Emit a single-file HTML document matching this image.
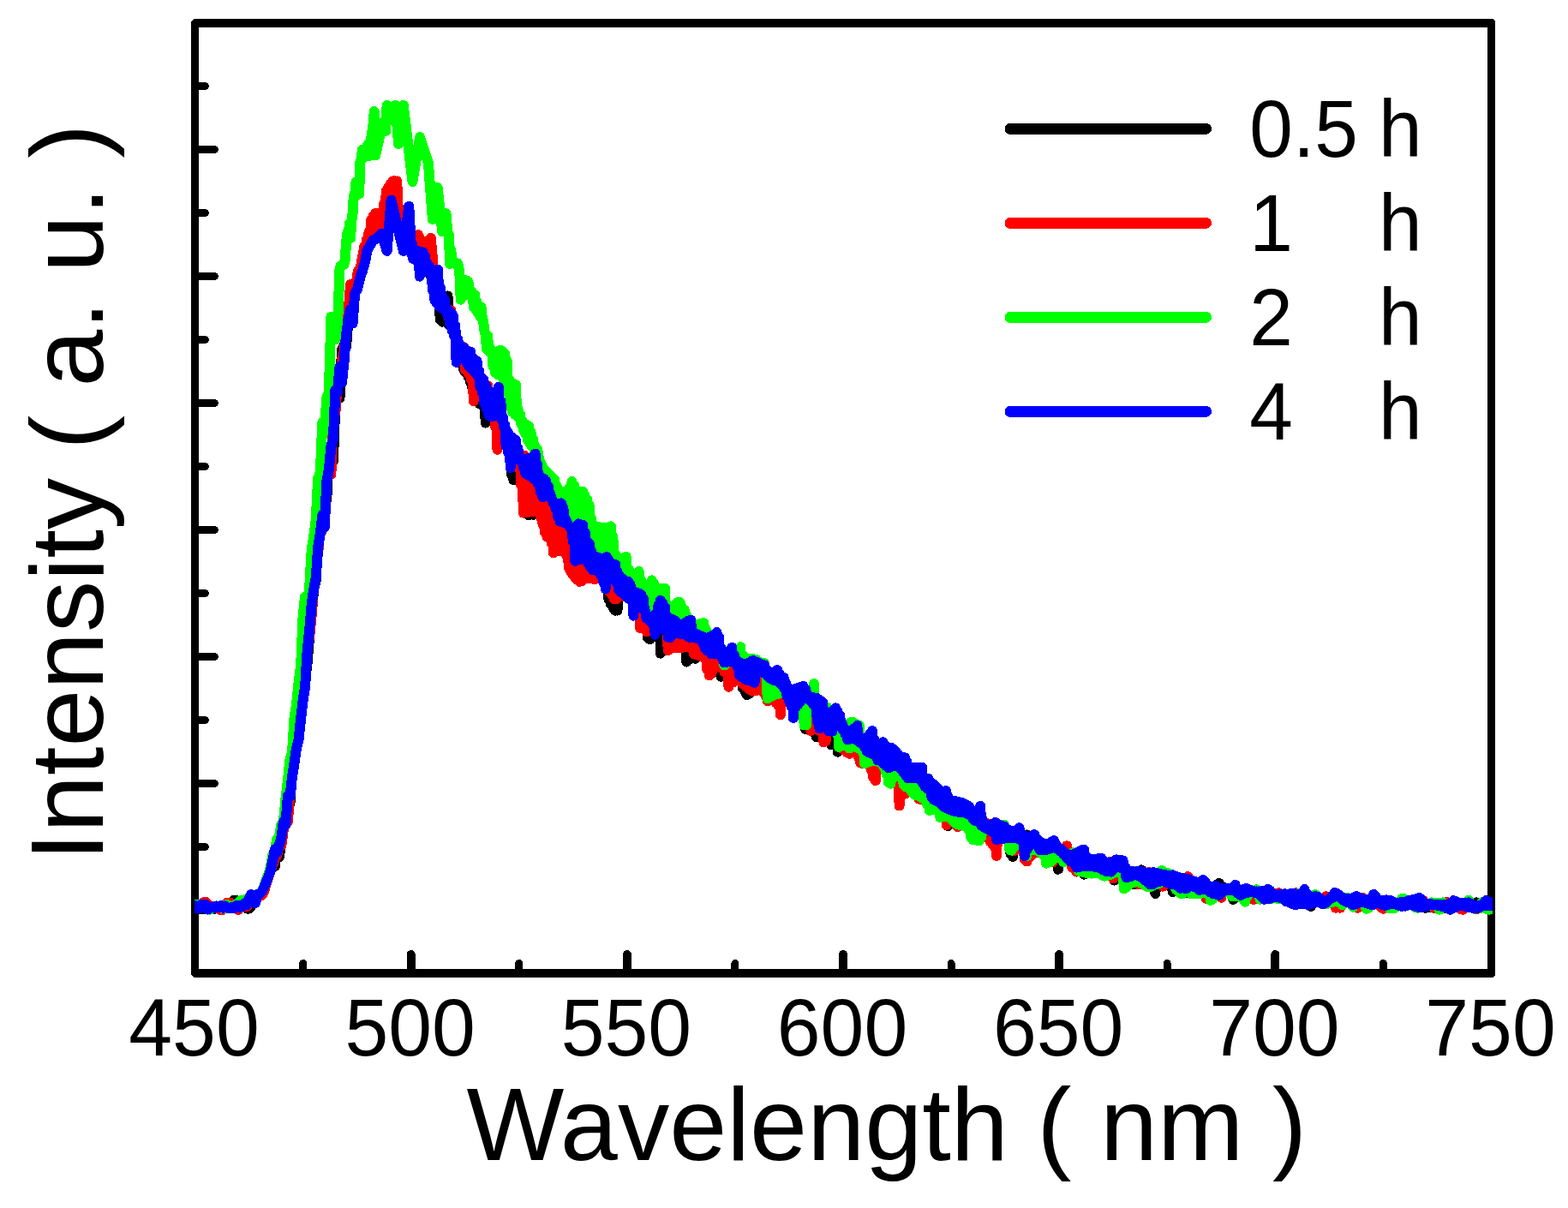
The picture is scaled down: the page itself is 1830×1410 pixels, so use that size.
<!DOCTYPE html>
<html><head><meta charset="utf-8"><title>PL spectra</title>
<style>
html,body{margin:0;padding:0;background:#fff;}
body{width:1830px;height:1410px;overflow:hidden;}
svg{display:block;}
text{font-family:"Liberation Sans",Arial,sans-serif;fill:#000;}
</style></head><body>
<svg width="1830" height="1410" viewBox="0 0 1830 1410" shape-rendering="crispEdges">
<rect x="0" y="0" width="1830" height="1410" fill="#fff"/>

<path fill="#000" fill-rule="evenodd" d="M226,22 H1742 L1745,25 V1138 L1742,1141 H226 L223,1138 V25 Z M232,32 V1131 H1736 V32 Z"/>
<g stroke="#000" stroke-linecap="round" fill="none">
<line x1="353.6" y1="1136" x2="353.6" y2="1124.5" stroke-width="9"/>
<line x1="479.7" y1="1136" x2="479.7" y2="1114" stroke-width="10"/>
<line x1="605.8" y1="1136" x2="605.8" y2="1124.5" stroke-width="9"/>
<line x1="731.8" y1="1136" x2="731.8" y2="1114" stroke-width="10"/>
<line x1="857.9" y1="1136" x2="857.9" y2="1124.5" stroke-width="9"/>
<line x1="984.0" y1="1136" x2="984.0" y2="1114" stroke-width="10"/>
<line x1="1110.1" y1="1136" x2="1110.1" y2="1124.5" stroke-width="9"/>
<line x1="1236.2" y1="1136" x2="1236.2" y2="1114" stroke-width="10"/>
<line x1="1362.2" y1="1136" x2="1362.2" y2="1124.5" stroke-width="9"/>
<line x1="1488.3" y1="1136" x2="1488.3" y2="1114" stroke-width="10"/>
<line x1="1614.4" y1="1136" x2="1614.4" y2="1124.5" stroke-width="9"/>
<line x1="228" y1="174.5" x2="250.5" y2="174.5" stroke-width="9"/>
<line x1="228" y1="100.5" x2="239.5" y2="100.5" stroke-width="9"/>
<line x1="228" y1="322.5" x2="250.5" y2="322.5" stroke-width="9"/>
<line x1="228" y1="248.5" x2="239.5" y2="248.5" stroke-width="9"/>
<line x1="228" y1="470.5" x2="250.5" y2="470.5" stroke-width="9"/>
<line x1="228" y1="396.5" x2="239.5" y2="396.5" stroke-width="9"/>
<line x1="228" y1="618.5" x2="250.5" y2="618.5" stroke-width="9"/>
<line x1="228" y1="544.5" x2="239.5" y2="544.5" stroke-width="9"/>
<line x1="228" y1="766.5" x2="250.5" y2="766.5" stroke-width="9"/>
<line x1="228" y1="692.5" x2="239.5" y2="692.5" stroke-width="9"/>
<line x1="228" y1="914.5" x2="250.5" y2="914.5" stroke-width="9"/>
<line x1="228" y1="840.5" x2="239.5" y2="840.5" stroke-width="9"/>
<line x1="228" y1="1062.5" x2="250.5" y2="1062.5" stroke-width="9"/>
<line x1="228" y1="988.5" x2="239.5" y2="988.5" stroke-width="9"/>
</g>
<clipPath id="pc"><rect x="227" y="32" width="1515" height="1099"/></clipPath>
<g fill="none" stroke-width="12" stroke-linejoin="round" stroke-linecap="round" clip-path="url(#pc)">
<path d="M227.5,1060.9 L230.0,1057.7 L232.5,1057.6 L235.1,1055.4 L237.6,1058.7 L240.1,1058.3 L242.6,1058.1 L245.2,1059.5 L247.7,1059.7 L250.2,1057.8 L252.7,1058.1 L255.2,1058.7 L257.8,1060.3 L260.3,1060.1 L262.8,1057.8 L265.3,1058.1 L270.0,1056.0 L272.5,1051.0 L275.0,1050.5 L277.5,1052.0 L280.0,1057.0 L283.0,1058.0 L286.0,1059.0 L288.5,1060.5 L291.0,1060.5 L293.0,1058.0 L295.5,1054.0 L298.0,1054.0 L300.5,1045.0 L303.0,1044.0 L305.5,1041.5 L308.0,1036.5 L310.5,1030.5 L313.0,1024.5 L315.8,1016.4 L318.3,1010.1 L320.8,1011.1 L323.3,990.2 L325.8,1000.2 L328.4,981.7 L330.9,963.8 L333.4,957.4 L335.9,944.8 L338.5,936.6 L341.0,901.2 L343.5,890.5 L346.0,868.0 L348.5,829.0 L351.1,814.1 L353.6,814.6 L356.1,794.8 L358.6,774.0 L361.1,743.3 L363.7,717.4 L366.2,687.5 L368.7,677.9 L371.2,629.5 L373.8,623.1 L376.3,617.3 L378.8,572.5 L381.3,582.7 L383.8,529.8 L386.4,524.9 L388.9,537.6 L391.4,472.1 L393.9,448.5 L396.5,464.5 L399.0,408.2 L401.5,403.7 L404.0,405.0 L406.5,373.0 L409.1,360.9 L411.6,377.5 L414.1,342.8 L417.2,336.8 L420.8,322.6 L423.7,314.0 L426.5,304.0 L428.2,292.8 L435.3,280.7 L440.3,277.9 L445.2,272.6 L451.6,292.9 L456.6,233.8 L470.8,292.9 L477.2,240.9 L478.4,259.5 L479.7,295.6 L480.9,285.1 L482.2,302.1 L483.4,291.3 L484.7,303.2 L486.0,292.7 L487.2,305.3 L488.5,293.2 L489.8,322.7 L491.0,293.6 L492.3,317.4 L493.5,294.4 L494.8,315.7 L496.1,299.6 L497.3,315.3 L498.6,307.3 L499.8,316.1 L501.1,319.1 L502.4,320.8 L503.6,324.1 L504.9,327.5 L506.1,329.9 L507.4,332.6 L508.7,334.3 L509.9,335.4 L511.2,336.8 L512.4,340.6 L513.7,373.0 L515.0,356.9 L516.2,375.7 L517.5,359.1 L518.8,370.4 L520.0,359.4 L521.3,368.7 L522.5,345.4 L523.8,379.4 L525.1,380.3 L526.3,381.2 L527.6,382.0 L528.8,383.4 L530.1,385.1 L531.4,389.5 L532.6,399.0 L533.9,400.7 L535.1,403.2 L536.4,404.5 L537.7,405.6 L538.9,406.9 L540.2,414.8 L541.4,432.0 L542.7,417.8 L544.0,435.3 L545.2,419.8 L546.5,439.9 L547.8,421.6 L549.0,445.7 L550.3,429.8 L551.5,453.7 L552.8,435.7 L554.1,462.0 L555.3,443.1 L556.6,468.3 L557.8,448.4 L559.1,470.8 L560.4,459.3 L561.6,471.8 L562.9,462.1 L564.1,474.0 L565.4,464.4 L566.7,493.6 L567.9,467.8 L569.2,472.2 L570.4,470.6 L571.7,471.1 L573.0,471.5 L574.2,471.5 L575.5,471.6 L576.8,471.2 L578.0,473.6 L579.3,475.5 L580.5,476.7 L581.8,478.1 L583.1,481.0 L584.3,487.1 L585.6,492.6 L586.8,494.4 L588.1,496.4 L589.4,502.0 L590.6,505.4 L591.9,507.3 L593.1,508.9 L594.4,511.8 L595.7,525.8 L596.9,553.7 L598.2,526.7 L599.4,560.3 L600.7,526.6 L602.0,527.4 L603.2,528.2 L604.5,530.8 L605.8,532.9 L607.0,534.3 L608.3,535.6 L609.5,537.0 L610.8,538.4 L612.1,539.5 L613.3,540.6 L614.6,598.8 L615.8,545.1 L617.1,601.5 L618.4,545.6 L619.6,592.8 L620.9,548.3 L622.1,600.8 L623.4,551.0 L624.7,551.9 L625.9,552.5 L627.2,554.7 L628.4,558.5 L629.7,559.7 L631.0,560.8 L632.2,561.9 L633.5,562.8 L634.7,563.3 L636.0,564.8 L637.3,567.4 L638.5,571.6 L639.8,575.5 L641.1,577.9 L642.3,579.9 L643.6,582.0 L644.8,584.4 L646.1,586.5 L647.4,588.2 L648.6,589.8 L649.9,591.8 L651.1,594.1 L652.4,596.1 L653.7,597.7 L654.9,598.5 L656.2,599.9 L657.4,603.4 L658.7,607.0 L660.0,610.5 L661.2,612.7 L662.5,614.8 L663.7,616.4 L665.0,617.7 L666.3,619.3 L667.5,621.6 L668.8,625.2 L670.1,628.7 L671.3,632.0 L672.6,633.6 L673.8,633.5 L675.1,633.2 L676.4,633.0 L677.6,632.9 L678.9,633.1 L680.1,633.9 L681.4,634.8 L682.7,636.7 L683.9,639.6 L685.2,641.2 L686.4,642.5 L687.7,643.5 L689.0,644.5 L690.2,647.4 L691.5,649.5 L692.7,651.4 L694.0,655.4 L695.3,657.7 L696.5,658.8 L697.8,659.9 L699.1,661.1 L700.3,662.8 L701.6,665.4 L702.8,666.4 L704.1,667.9 L705.4,669.2 L706.6,669.1 L707.9,671.6 L709.1,668.6 L710.4,699.5 L711.7,669.3 L712.9,705.3 L714.2,671.7 L715.4,709.0 L716.7,673.3 L718.0,712.7 L719.2,674.6 L720.5,712.6 L721.7,681.6 L723.0,687.1 L724.3,684.2 L725.5,685.5 L726.8,685.8 L728.1,688.1 L729.3,689.5 L730.6,690.5 L731.8,691.7 L733.1,692.7 L734.4,693.5 L735.6,694.6 L736.9,696.1 L738.1,698.3 L739.4,701.0 L740.7,701.7 L741.9,702.2 L743.2,702.8 L744.4,702.7 L745.7,703.2 L747.0,703.5 L748.2,704.3 L749.5,704.9 L750.7,706.5 L752.0,710.8 L753.3,724.1 L754.5,725.1 L755.8,744.3 L757.1,727.9 L758.3,746.1 L759.6,727.0 L760.8,726.4 L762.1,725.9 L763.4,725.2 L764.6,724.6 L765.9,723.9 L767.1,723.2 L768.4,723.2 L769.7,720.6 L770.9,762.7 L772.2,722.4 L773.4,727.8 L774.7,723.8 L776.0,725.7 L777.2,726.4 L778.5,727.6 L779.7,728.2 L781.0,728.9 L782.3,729.5 L783.5,730.1 L784.8,730.5 L786.0,731.1 L787.3,731.6 L788.6,731.8 L789.8,732.3 L791.1,732.8 L792.4,733.3 L793.6,733.7 L794.9,734.1 L796.1,734.5 L797.4,734.0 L798.7,736.0 L799.9,733.7 L801.2,772.6 L802.4,734.0 L803.7,770.0 L805.0,733.9 L806.2,768.4 L807.5,740.3 L808.7,768.0 L810.0,742.6 L811.3,768.8 L812.5,744.9 L813.8,753.3 L815.0,748.0 L816.3,750.5 L817.6,749.7 L818.8,750.0 L820.1,750.2 L821.4,750.8 L822.6,751.2 L823.9,751.8 L825.1,752.1 L826.4,752.2 L827.7,752.2 L828.9,752.2 L830.2,752.2 L831.4,752.0 L832.7,751.7 L834.0,751.3 L835.2,752.0 L836.5,752.6 L837.7,753.2 L839.0,754.2 L840.3,757.4 L841.5,789.7 L842.8,764.8 L844.0,765.3 L845.3,765.8 L846.6,765.7 L847.8,766.0 L849.1,766.0 L850.4,765.6 L851.6,765.9 L852.9,766.4 L854.1,766.9 L855.4,768.1 L856.7,769.8 L857.9,771.1 L859.2,772.6 L860.4,774.4 L861.7,776.9 L863.0,777.9 L864.2,779.2 L865.5,783.6 L866.7,803.0 L868.0,784.3 L869.3,807.0 L870.5,784.3 L871.8,811.0 L873.0,783.7 L874.3,809.7 L875.6,783.3 L876.8,790.1 L878.1,783.7 L879.4,785.2 L880.6,784.0 L881.9,783.5 L883.1,782.6 L884.4,782.2 L885.7,782.0 L886.9,781.8 L888.2,781.6 L889.4,781.5 L890.7,781.2 L892.0,781.9 L893.2,782.6 L894.5,784.0 L895.7,785.2 L897.0,786.2 L898.3,786.8 L899.5,787.4 L900.8,787.7 L902.0,788.2 L903.3,789.1 L904.6,789.2 L905.8,789.6 L907.1,790.9 L908.4,792.5 L909.6,794.3 L910.9,795.7 L912.1,796.8 L913.4,799.3 L914.7,801.5 L915.9,803.8 L917.2,806.7 L918.4,809.0 L919.7,811.3 L921.0,813.2 L922.2,814.2 L923.5,815.7 L924.7,817.9 L926.0,819.1 L927.3,820.3 L928.5,820.1 L929.8,817.6 L931.0,816.3 L932.3,815.3 L933.6,814.4 L934.8,813.6 L936.1,812.8 L937.4,811.5 L938.6,809.9 L939.9,850.8 L941.1,813.2 L942.4,850.7 L943.7,819.9 L944.9,823.4 L946.2,823.4 L947.4,824.9 L948.7,824.9 L950.0,826.1 L951.2,826.3 L952.5,860.0 L953.7,832.0 L955.0,833.7 L956.3,833.0 L957.5,833.2 L958.8,833.3 L960.0,833.7 L961.3,835.3 L962.6,836.8 L963.8,837.6 L965.1,838.3 L966.3,838.9 L967.6,839.6 L968.9,839.9 L970.1,869.2 L971.4,841.0 L972.7,853.4 L973.9,840.3 L975.2,868.8 L976.4,839.1 L977.7,877.7 L979.0,844.7 L980.2,846.7 L981.5,847.2 L982.7,848.6 L984.0,849.9 L985.3,851.0 L986.5,851.6 L987.8,852.8 L989.0,854.0 L990.3,854.6 L991.6,855.2 L992.8,856.2 L994.1,856.7 L995.3,856.2 L996.6,855.9 L997.9,856.0 L999.1,856.9 L1000.4,858.5 L1001.7,860.4 L1002.9,861.8 L1004.2,862.8 L1005.4,863.4 L1006.7,864.1 L1008.0,864.9 L1009.2,866.0 L1010.5,867.2 L1011.7,868.0 L1013.0,867.6 L1014.3,867.2 L1015.5,867.4 L1016.8,867.8 L1018.0,868.1 L1019.3,868.5 L1020.6,871.0 L1021.8,872.4 L1023.1,873.8 L1024.3,874.4 L1025.6,874.9 L1026.9,875.4 L1028.1,876.0 L1029.4,877.0 L1030.7,879.3 L1031.9,880.5 L1033.2,881.1 L1034.4,882.1 L1035.7,882.8 L1037.0,883.3 L1038.2,883.6 L1039.5,883.8 L1040.7,884.1 L1042.0,883.9 L1043.3,884.3 L1044.5,885.0 L1045.8,885.8 L1047.0,886.7 L1048.3,887.9 L1049.6,889.1 L1050.8,890.3 L1052.1,891.5 L1053.3,892.7 L1054.6,893.8 L1055.9,894.7 L1057.1,895.6 L1058.4,896.5 L1059.7,897.7 L1060.9,898.5 L1062.2,899.0 L1063.4,899.5 L1064.7,900.0 L1066.0,900.6 L1067.2,901.4 L1068.5,902.4 L1069.7,903.1 L1071.0,903.6 L1072.3,904.1 L1073.5,904.7 L1074.8,905.6 L1076.0,908.9 L1077.3,911.3 L1078.6,912.3 L1079.8,913.1 L1081.1,914.0 L1082.3,914.8 L1083.6,915.6 L1084.9,916.5 L1086.1,918.3 L1087.4,922.1 L1088.7,923.1 L1089.9,923.9 L1091.2,924.7 L1092.4,925.8 L1093.7,927.0 L1095.0,928.2 L1096.2,929.3 L1097.5,930.3 L1098.7,931.1 L1100.0,931.8 L1101.3,932.4 L1102.5,933.1 L1103.8,933.7 L1105.0,934.2 L1106.3,964.1 L1107.6,937.8 L1108.8,938.4 L1110.1,938.2 L1111.3,938.8 L1112.6,938.8 L1113.9,939.5 L1115.1,939.9 L1116.4,941.2 L1117.6,941.6 L1118.9,941.8 L1120.2,942.0 L1121.4,942.2 L1122.7,942.5 L1124.0,942.8 L1125.2,943.3 L1126.5,944.3 L1127.7,945.2 L1129.0,946.0 L1130.3,946.6 L1131.5,947.2 L1132.8,948.2 L1134.0,949.5 L1135.3,950.7 L1136.6,951.5 L1137.8,951.8 L1139.1,952.2 L1140.3,952.3 L1141.6,952.4 L1142.9,952.7 L1144.1,952.9 L1145.4,953.2 L1146.6,957.0 L1147.9,958.8 L1149.2,959.8 L1150.4,960.4 L1151.7,961.0 L1153.0,961.4 L1154.2,961.8 L1155.5,962.4 L1156.7,964.2 L1158.0,967.5 L1159.3,967.9 L1160.5,968.4 L1161.8,969.0 L1163.0,969.5 L1164.3,969.9 L1165.6,970.4 L1166.8,970.9 L1168.1,971.3 L1169.3,971.5 L1170.6,971.4 L1171.9,971.4 L1173.1,971.3 L1174.4,971.8 L1175.6,972.6 L1176.9,973.4 L1178.2,973.5 L1179.4,996.3 L1180.7,973.7 L1182.0,999.8 L1183.2,974.0 L1184.5,981.8 L1185.7,977.6 L1187.0,979.0 L1188.3,979.7 L1189.5,979.8 L1190.8,980.5 L1192.0,981.8 L1193.3,983.0 L1194.6,983.9 L1195.8,985.1 L1197.1,985.7 L1198.3,974.5 L1199.6,985.2 L1200.9,984.4 L1202.1,983.5 L1203.4,982.3 L1204.6,981.8 L1205.9,981.2 L1207.2,980.7 L1208.4,981.4 L1209.7,982.2 L1211.0,983.2 L1212.2,984.2 L1213.5,985.1 L1214.7,986.0 L1216.0,987.8 L1217.3,988.1 L1218.5,988.5 L1219.8,988.9 L1221.0,988.9 L1222.3,988.4 L1223.6,988.0 L1224.8,987.5 L1226.1,986.8 L1227.3,986.2 L1228.6,985.8 L1229.9,985.6 L1231.1,986.1 L1232.4,987.8 L1233.6,989.4 L1234.9,1014.8 L1236.2,993.8 L1237.4,1005.4 L1238.7,995.7 L1240.0,1000.1 L1241.2,998.3 L1242.5,999.0 L1243.7,999.3 L1245.0,999.6 L1246.3,1000.2 L1247.5,1000.8 L1248.8,1001.6 L1250.0,1002.1 L1251.3,1002.8 L1252.6,1003.0 L1253.8,1003.2 L1255.1,1003.3 L1256.3,1003.2 L1257.6,1003.0 L1258.9,1002.8 L1260.1,1003.0 L1261.4,1002.2 L1262.6,1004.3 L1263.9,1001.7 L1265.2,1020.7 L1266.4,1002.3 L1267.7,1003.4 L1268.9,1004.2 L1270.2,1004.7 L1271.5,1005.2 L1272.7,1005.5 L1274.0,1005.9 L1275.3,1006.5 L1276.5,1007.3 L1277.8,1007.3 L1279.0,1007.3 L1280.3,1007.5 L1281.6,1007.7 L1282.8,1007.9 L1284.1,1008.4 L1285.3,1008.8 L1286.6,1009.3 L1287.9,1009.9 L1289.1,1010.5 L1290.4,1011.0 L1291.6,1011.6 L1292.9,1012.0 L1294.2,1012.3 L1295.4,1012.8 L1296.7,1011.9 L1297.9,1013.6 L1299.2,1010.6 L1300.5,1027.6 L1301.7,1009.2 L1303.0,1008.7 L1304.3,1008.3 L1305.5,1008.2 L1306.8,1009.2 L1308.0,1010.2 L1309.3,1010.8 L1310.6,1011.4 L1311.8,1012.0 L1313.1,1013.4 L1314.3,1015.3 L1315.6,1016.8 L1316.9,1017.7 L1318.1,1018.2 L1319.4,1018.7 L1320.6,1019.3 L1321.9,1020.3 L1323.2,1032.5 L1324.4,1021.5 L1325.7,1021.0 L1326.9,1020.6 L1328.2,1020.3 L1329.5,1020.2 L1330.7,1020.1 L1332.0,1015.4 L1333.3,1021.9 L1334.5,1022.8 L1335.8,1023.4 L1337.0,1024.0 L1338.3,1024.5 L1339.6,1025.0 L1340.8,1025.4 L1342.1,1025.6 L1343.3,1025.6 L1344.6,1025.5 L1345.9,1026.4 L1347.1,1025.1 L1348.4,1042.9 L1349.6,1024.4 L1350.9,1028.1 L1352.2,1024.3 L1353.4,1025.3 L1354.7,1024.3 L1355.9,1024.6 L1357.2,1024.7 L1358.5,1025.1 L1359.7,1025.4 L1361.0,1025.7 L1362.3,1026.0 L1363.5,1026.3 L1364.8,1026.6 L1366.0,1027.0 L1367.3,1026.8 L1368.6,1041.0 L1369.8,1027.2 L1371.1,1028.8 L1372.3,1028.4 L1373.6,1028.6 L1374.9,1029.0 L1376.1,1029.5 L1377.4,1030.0 L1378.6,1030.4 L1379.9,1030.8 L1381.2,1031.0 L1382.4,1031.1 L1383.7,1042.5 L1384.9,1031.2 L1386.2,1030.9 L1387.5,1030.7 L1388.7,1030.8 L1390.0,1031.2 L1391.3,1031.6 L1392.5,1032.0 L1393.8,1032.4 L1395.0,1032.8 L1396.3,1033.3 L1397.6,1033.7 L1398.8,1034.1 L1400.1,1034.1 L1401.3,1033.8 L1402.6,1033.5 L1403.9,1032.9 L1405.1,1032.8 L1406.4,1033.3 L1407.6,1034.3 L1408.9,1035.3 L1410.2,1036.1 L1411.4,1036.8 L1412.7,1037.3 L1413.9,1037.7 L1415.2,1038.3 L1416.5,1038.8 L1417.7,1037.5 L1419.0,1039.0 L1420.2,1032.7 L1421.5,1039.6 L1422.8,1031.0 L1424.0,1038.7 L1425.3,1034.1 L1426.6,1037.4 L1427.8,1035.8 L1429.1,1036.5 L1430.3,1036.5 L1431.6,1037.7 L1432.9,1038.0 L1434.1,1038.5 L1435.4,1038.5 L1436.6,1038.7 L1437.9,1038.7 L1439.2,1049.8 L1440.4,1038.2 L1441.7,1039.6 L1442.9,1040.2 L1444.2,1040.5 L1445.5,1041.0 L1446.7,1041.3 L1448.0,1041.6 L1449.2,1042.0 L1450.5,1042.0 L1451.8,1041.6 L1453.0,1041.3 L1454.3,1041.1 L1455.6,1041.2 L1456.8,1041.5 L1458.1,1041.9 L1459.3,1042.4 L1460.6,1043.0 L1461.9,1043.5 L1463.1,1043.9 L1464.4,1044.3 L1465.6,1044.5 L1466.9,1044.5 L1468.2,1044.5 L1469.4,1044.5 L1470.7,1044.5 L1471.9,1044.3 L1473.2,1044.3 L1474.5,1044.4 L1475.7,1044.5 L1477.0,1044.5 L1478.2,1044.2 L1479.5,1044.0 L1480.8,1043.8 L1482.0,1043.8 L1483.3,1044.7 L1484.6,1045.5 L1485.8,1046.0 L1487.1,1046.4 L1488.3,1046.8 L1489.6,1047.3 L1490.9,1047.9 L1492.1,1048.3 L1493.4,1048.1 L1494.6,1047.9 L1495.9,1047.8 L1497.2,1047.6 L1498.4,1047.7 L1499.7,1047.8 L1500.9,1048.0 L1502.2,1048.3 L1503.5,1048.5 L1504.7,1048.8 L1506.0,1048.9 L1507.2,1048.9 L1508.5,1049.0 L1509.8,1049.3 L1511.0,1049.5 L1512.3,1049.6 L1513.6,1049.6 L1514.8,1049.3 L1516.1,1048.9 L1517.3,1048.6 L1518.6,1048.3 L1519.9,1047.8 L1521.1,1047.1 L1522.4,1046.7 L1523.6,1046.8 L1524.9,1047.1 L1526.2,1048.0 L1527.4,1048.8 L1528.7,1049.4 L1529.9,1057.9 L1531.2,1050.9 L1532.5,1051.1 L1533.7,1050.5 L1535.0,1050.3 L1536.2,1050.3 L1537.5,1050.5 L1538.8,1050.8 L1540.0,1051.5 L1541.3,1052.3 L1542.6,1053.0 L1543.8,1053.5 L1545.1,1054.0 L1546.3,1054.5 L1547.6,1054.0 L1548.9,1053.0 L1550.1,1052.0 L1551.4,1050.9 L1552.6,1050.0 L1553.9,1049.3 L1555.2,1048.5 L1556.4,1047.5 L1557.7,1046.6 L1558.9,1046.1 L1560.2,1046.4 L1561.5,1046.8 L1562.7,1047.6 L1564.0,1048.4 L1565.2,1049.2 L1566.5,1049.9 L1567.8,1050.6 L1569.0,1051.3 L1570.3,1052.0 L1571.6,1052.5 L1572.8,1053.0 L1574.1,1053.0 L1575.3,1052.8 L1576.6,1052.5 L1577.9,1052.2 L1579.1,1051.9 L1580.4,1051.4 L1581.6,1051.2 L1582.9,1050.9 L1584.2,1050.6 L1585.4,1050.9 L1586.7,1051.3 L1587.9,1051.8 L1589.2,1052.3 L1590.5,1052.8 L1591.7,1053.3 L1593.0,1053.7 L1594.2,1053.7 L1595.5,1053.4 L1596.8,1053.0 L1598.0,1052.6 L1599.3,1052.0 L1600.5,1051.4 L1601.8,1050.5 L1603.1,1050.1 L1604.3,1049.8 L1605.6,1050.0 L1606.9,1051.1 L1608.1,1051.8 L1609.4,1052.3 L1610.6,1052.7 L1611.9,1053.1 L1613.2,1053.5 L1614.4,1054.0 L1615.7,1054.7 L1616.9,1054.6 L1618.2,1054.5 L1619.5,1054.5 L1620.7,1054.7 L1622.0,1054.8 L1623.2,1055.1 L1624.5,1055.5 L1625.8,1055.9 L1627.0,1056.5 L1628.3,1057.0 L1629.5,1057.5 L1630.8,1057.8 L1632.1,1057.6 L1633.3,1057.4 L1634.6,1057.2 L1635.9,1057.1 L1637.1,1056.9 L1638.4,1056.4 L1639.6,1056.1 L1640.9,1055.9 L1642.2,1055.6 L1643.4,1055.2 L1644.7,1054.8 L1645.9,1054.6 L1647.2,1054.4 L1648.5,1054.1 L1649.7,1053.8 L1651.0,1053.7 L1652.2,1053.8 L1653.5,1053.7 L1654.8,1053.6 L1656.0,1053.5 L1657.3,1053.5 L1658.5,1053.7 L1659.8,1054.7 L1661.1,1055.6 L1662.3,1056.2 L1663.6,1059.8 L1664.9,1057.0 L1666.1,1057.7 L1667.4,1058.5 L1668.6,1059.1 L1669.9,1059.3 L1671.2,1059.4 L1672.4,1059.5 L1673.7,1059.6 L1674.9,1059.6 L1676.2,1059.6 L1677.5,1059.7 L1678.7,1059.7 L1680.0,1059.8 L1681.2,1059.8 L1682.5,1059.9 L1683.8,1059.9 L1685.0,1060.0 L1686.3,1060.1 L1687.5,1060.0 L1688.8,1059.5 L1690.1,1059.1 L1691.3,1058.7 L1692.6,1058.1 L1693.9,1057.4 L1695.1,1056.7 L1696.4,1056.1 L1697.6,1055.8 L1698.9,1055.9 L1700.2,1056.3 L1701.4,1056.7 L1702.7,1057.1 L1703.9,1057.4 L1705.2,1057.5 L1706.5,1057.6 L1707.7,1057.7 L1709.0,1057.8 L1710.2,1057.7 L1711.5,1057.6 L1712.8,1057.5 L1714.0,1057.7 L1715.3,1058.1 L1716.5,1058.6 L1717.8,1058.6 L1719.1,1058.4 L1720.3,1058.3 L1721.6,1058.1 L1722.9,1053.4 L1724.1,1058.4 L1725.4,1058.5 L1726.6,1058.8 L1727.9,1059.0 L1729.2,1058.4 L1730.4,1057.8 L1731.7,1057.1 L1732.9,1056.2 L1734.2,1055.6 L1735.5,1055.5 L1736.7,1055.9 L1738.0,1056.3 L1739.2,1056.8 L1740.5,1057.3 L1741.8,1057.8 L1743.0,1058.3 L1744.3,1058.8" stroke="#000000"/>
<path d="M227.5,1057.8 L230.0,1055.8 L232.5,1060.1 L235.5,1056.0 L238.0,1053.0 L240.5,1053.0 L243.0,1055.5 L247.7,1060.0 L250.2,1058.4 L254.5,1059.0 L257.0,1062.0 L259.5,1062.0 L262.0,1058.0 L264.5,1054.0 L267.0,1053.5 L269.5,1054.0 L272.0,1057.0 L275.4,1057.8 L277.9,1061.8 L280.5,1057.3 L283.0,1058.1 L285.5,1058.3 L288.0,1058.0 L290.5,1054.7 L293.1,1051.3 L295.6,1049.9 L300.5,1046.0 L303.0,1044.5 L305.5,1045.0 L308.0,1041.0 L310.5,1032.0 L313.0,1025.0 L315.8,1015.4 L318.3,1009.1 L320.8,1002.1 L323.3,998.5 L325.8,986.1 L328.4,986.8 L330.9,967.8 L333.4,950.8 L335.9,959.0 L338.5,923.7 L341.0,906.1 L343.5,871.4 L346.0,870.6 L348.5,835.3 L351.1,819.1 L353.6,816.2 L356.1,793.1 L358.6,753.1 L361.1,743.5 L363.7,717.9 L366.2,684.1 L368.7,649.6 L371.2,647.4 L373.8,604.0 L376.3,617.6 L378.8,595.0 L381.3,545.0 L383.8,524.3 L386.4,553.6 L388.9,472.2 L391.4,481.8 L393.9,446.2 L396.5,438.8 L399.0,419.8 L401.5,411.1 L404.0,389.9 L406.5,364.9 L409.1,331.9 L411.6,341.0 L414.1,341.2 L416.6,325.3 L417.9,315.9 L419.1,315.2 L420.4,312.5 L421.7,307.8 L422.9,300.4 L424.2,294.8 L425.5,287.0 L426.7,290.5 L428.0,279.4 L429.2,286.2 L430.5,270.9 L431.8,282.9 L433.0,257.2 L434.3,281.4 L435.5,252.2 L436.8,279.8 L438.1,249.2 L439.3,277.2 L440.6,248.7 L441.8,274.9 L443.1,248.6 L444.4,274.0 L445.6,247.2 L446.9,274.3 L448.1,238.0 L449.4,255.2 L450.7,223.4 L451.9,238.8 L453.2,218.9 L454.5,236.8 L455.7,214.5 L457.0,236.3 L458.2,211.4 L459.5,237.0 L460.8,211.2 L462.0,239.2 L463.3,211.4 L464.5,248.5 L465.8,243.0 L467.1,261.7 L468.3,268.6 L469.6,267.8 L470.8,263.3 L472.1,260.8 L473.7,277.6 L480.8,284.7 L487.9,274.0 L495.0,289.0 L502.8,277.9 L504.9,301.7 L506.1,329.8 L507.4,335.8 L508.7,335.8 L509.9,336.1 L511.2,336.7 L512.4,338.6 L513.7,344.5 L515.0,348.0 L516.2,349.9 L517.5,351.5 L518.8,353.2 L520.0,360.2 L521.3,364.5 L522.5,367.0 L523.8,369.8 L525.1,375.5 L526.3,362.4 L527.6,381.1 L528.8,383.3 L530.1,385.1 L531.4,389.5 L532.6,399.0 L533.9,400.7 L535.1,403.2 L536.4,404.5 L537.7,405.6 L538.9,406.6 L540.2,413.8 L541.4,405.1 L542.7,431.4 L544.0,413.8 L545.2,433.9 L546.5,419.4 L547.8,436.9 L549.0,425.8 L550.3,443.9 L551.5,433.8 L552.8,468.0 L554.1,440.5 L555.3,461.8 L556.6,444.7 L557.8,449.2 L559.1,451.2 L560.4,453.6 L561.6,454.3 L562.9,455.0 L564.1,455.5 L565.4,456.5 L566.7,457.5 L567.9,458.9 L569.2,450.2 L570.4,465.9 L571.7,468.3 L573.0,469.0 L574.2,470.0 L575.5,470.9 L576.8,471.8 L578.0,498.0 L579.3,481.0 L580.5,524.8 L581.8,485.8 L583.1,503.0 L584.3,502.1 L585.6,505.1 L586.8,507.3 L588.1,506.5 L589.4,509.8 L590.6,509.9 L591.9,512.2 L593.1,511.8 L594.4,514.3 L595.7,517.5 L596.9,522.9 L598.2,523.8 L599.4,524.9 L600.7,526.9 L602.0,528.0 L603.2,529.6 L604.5,532.7 L605.8,544.0 L607.0,539.9 L608.3,566.8 L609.5,540.6 L610.8,598.7 L612.1,531.8 L613.3,597.6 L614.6,544.7 L615.8,597.9 L617.1,545.3 L618.4,597.4 L619.6,546.8 L620.9,597.3 L622.1,549.5 L623.4,597.3 L624.7,552.6 L625.9,597.5 L627.2,558.3 L628.4,598.8 L629.7,567.2 L631.0,603.7 L632.2,568.9 L633.5,612.2 L634.7,569.2 L636.0,621.4 L637.3,573.8 L638.5,626.5 L639.8,581.4 L641.1,628.7 L642.3,588.8 L643.6,633.9 L644.8,594.7 L646.1,645.5 L647.4,597.2 L648.6,643.6 L649.9,598.2 L651.1,643.4 L652.4,598.3 L653.7,643.4 L654.9,598.5 L656.2,643.5 L657.4,608.2 L658.7,644.5 L660.0,621.6 L661.2,648.7 L662.5,628.3 L663.7,662.3 L665.0,632.1 L666.3,667.8 L667.5,633.6 L668.8,671.0 L670.1,633.9 L671.3,674.4 L672.6,634.1 L673.8,676.7 L675.1,633.5 L676.4,678.9 L677.6,633.1 L678.9,678.2 L680.1,635.3 L681.4,676.2 L682.7,640.1 L683.9,674.9 L685.2,647.2 L686.4,674.8 L687.7,649.2 L689.0,675.1 L690.2,654.1 L691.5,675.4 L692.7,658.7 L694.0,676.2 L695.3,663.8 L696.5,672.1 L697.8,666.7 L699.1,669.3 L700.3,668.4 L701.6,668.7 L702.8,668.9 L704.1,669.0 L705.4,669.1 L706.6,669.4 L707.9,668.9 L709.1,671.1 L710.4,668.0 L711.7,690.7 L712.9,670.7 L714.2,694.5 L715.4,672.6 L716.7,699.2 L718.0,673.9 L719.2,699.5 L720.5,678.1 L721.7,696.5 L723.0,683.1 L724.3,695.4 L725.5,685.2 L726.8,695.5 L728.1,691.1 L729.3,696.6 L730.6,695.0 L731.8,696.7 L733.1,696.7 L734.4,697.2 L735.6,697.6 L736.9,698.8 L738.1,699.9 L739.4,701.0 L740.7,701.7 L741.9,702.2 L743.2,702.8 L744.4,703.7 L745.7,705.1 L747.0,732.9 L748.2,707.2 L749.5,729.4 L750.7,709.8 L752.0,733.5 L753.3,722.3 L754.5,737.3 L755.8,726.8 L757.1,729.0 L758.3,727.5 L759.6,727.0 L760.8,726.4 L762.1,725.7 L763.4,724.8 L764.6,724.0 L765.9,723.0 L767.1,721.4 L768.4,720.0 L769.7,719.2 L770.9,719.6 L772.2,720.1 L773.4,720.3 L774.7,721.3 L776.0,722.1 L777.2,725.7 L778.5,730.0 L779.7,759.1 L781.0,732.2 L782.3,756.5 L783.5,732.7 L784.8,755.7 L786.0,732.2 L787.3,755.7 L788.6,732.0 L789.8,755.9 L791.1,733.4 L792.4,756.3 L793.6,734.3 L794.9,756.1 L796.1,734.3 L797.4,755.6 L798.7,733.7 L799.9,755.2 L801.2,733.9 L802.4,754.9 L803.7,733.9 L805.0,755.4 L806.2,735.3 L807.5,757.6 L808.7,741.7 L810.0,763.4 L811.3,743.2 L812.5,764.3 L813.8,746.4 L815.0,764.9 L816.3,749.0 L817.6,765.4 L818.8,750.3 L820.1,766.3 L821.4,751.4 L822.6,769.1 L823.9,752.1 L825.1,781.0 L826.4,752.2 L827.7,788.3 L828.9,752.2 L830.2,786.4 L831.4,752.2 L832.7,781.0 L834.0,751.6 L835.2,778.8 L836.5,754.0 L837.7,778.2 L839.0,755.6 L840.3,778.7 L841.5,762.9 L842.8,780.5 L844.0,765.9 L845.3,784.1 L846.6,766.9 L847.8,785.4 L849.1,766.8 L850.4,801.8 L851.6,767.4 L852.9,797.3 L854.1,769.9 L855.4,796.5 L856.7,775.1 L857.9,794.7 L859.2,778.6 L860.4,794.3 L861.7,781.2 L863.0,794.9 L864.2,782.8 L865.5,796.8 L866.7,784.0 L868.0,799.0 L869.3,784.3 L870.5,801.3 L871.8,784.0 L873.0,803.5 L874.3,783.3 L875.6,805.4 L876.8,783.5 L878.1,806.7 L879.4,783.8 L880.6,806.3 L881.9,784.0 L883.1,805.8 L884.4,784.2 L885.7,805.4 L886.9,784.2 L888.2,805.8 L889.4,783.2 L890.7,807.5 L892.0,783.0 L893.2,811.9 L894.5,785.8 L895.7,818.1 L897.0,788.5 L898.3,817.7 L899.5,789.3 L900.8,817.5 L902.0,789.1 L903.3,818.2 L904.6,789.3 L905.8,820.4 L907.1,792.4 L908.4,823.4 L909.6,798.3 L910.9,834.2 L912.1,802.1 L913.4,813.3 L914.7,809.5 L915.9,811.5 L917.2,812.4 L918.4,813.9 L919.7,814.3 L921.0,815.4 L922.2,815.6 L923.5,816.5 L924.7,817.9 L926.0,819.1 L927.3,819.4 L928.5,817.9 L929.8,817.1 L931.0,816.3 L932.3,815.3 L933.6,814.4 L934.8,813.6 L936.1,812.6 L937.4,811.3 L938.6,809.4 L939.9,809.7 L941.1,812.3 L942.4,815.5 L943.7,817.4 L944.9,819.0 L946.2,852.9 L947.4,829.0 L948.7,850.3 L950.0,830.6 L951.2,851.2 L952.5,831.4 L953.7,851.8 L955.0,832.6 L956.3,852.6 L957.5,833.2 L958.8,854.5 L960.0,834.0 L961.3,866.3 L962.6,839.7 L963.8,865.0 L965.1,841.9 L966.3,844.2 L967.6,842.2 L968.9,841.7 L970.1,841.3 L971.4,840.5 L972.7,840.1 L973.9,839.8 L975.2,839.8 L976.4,839.8 L977.7,841.6 L979.0,843.3 L980.2,846.2 L981.5,873.4 L982.7,851.2 L984.0,874.2 L985.3,855.7 L986.5,876.3 L987.8,857.5 L989.0,878.7 L990.3,858.1 L991.6,879.8 L992.8,857.8 L994.1,876.7 L995.3,856.6 L996.6,876.9 L997.9,856.0 L999.1,878.2 L1000.4,860.8 L1001.7,883.5 L1002.9,866.7 L1004.2,890.4 L1005.4,868.5 L1006.7,891.0 L1008.0,869.0 L1009.2,891.2 L1010.5,868.7 L1011.7,891.7 L1013.0,867.9 L1014.3,893.7 L1015.5,868.0 L1016.8,898.6 L1018.0,869.5 L1019.3,907.7 L1020.6,874.5 L1021.8,911.1 L1023.1,877.3 L1024.3,881.9 L1025.6,878.3 L1026.9,879.8 L1028.1,879.1 L1029.4,879.6 L1030.7,880.0 L1031.9,880.5 L1033.2,881.1 L1034.4,882.1 L1035.7,882.8 L1037.0,883.3 L1038.2,883.6 L1039.5,883.8 L1040.7,884.1 L1042.0,883.9 L1043.3,884.5 L1044.5,885.7 L1045.8,886.8 L1047.0,888.6 L1048.3,891.3 L1049.6,940.5 L1050.8,893.6 L1052.1,928.2 L1053.3,895.0 L1054.6,926.9 L1055.9,895.9 L1057.1,926.5 L1058.4,896.9 L1059.7,903.2 L1060.9,900.6 L1062.2,901.5 L1063.4,901.6 L1064.7,901.6 L1066.0,902.0 L1067.2,902.1 L1068.5,902.7 L1069.7,904.5 L1071.0,904.7 L1072.3,932.4 L1073.5,906.0 L1074.8,933.2 L1076.0,912.5 L1077.3,922.9 L1078.6,917.6 L1079.8,920.1 L1081.1,919.2 L1082.3,919.6 L1083.6,919.9 L1084.9,920.4 L1086.1,921.4 L1087.4,922.3 L1088.7,923.1 L1089.9,923.9 L1091.2,924.7 L1092.4,925.8 L1093.7,927.0 L1095.0,928.2 L1096.2,929.3 L1097.5,930.3 L1098.7,931.1 L1100.0,931.8 L1101.3,932.4 L1102.5,933.2 L1103.8,933.6 L1105.0,963.0 L1106.3,936.4 L1107.6,937.2 L1108.8,937.6 L1110.1,937.9 L1111.3,938.2 L1112.6,938.6 L1113.9,939.1 L1115.1,939.9 L1116.4,941.2 L1117.6,965.1 L1118.9,941.9 L1120.2,942.7 L1121.4,942.3 L1122.7,942.5 L1124.0,942.8 L1125.2,943.3 L1126.5,944.3 L1127.7,945.2 L1129.0,946.0 L1130.3,946.6 L1131.5,947.2 L1132.8,948.2 L1134.0,949.5 L1135.3,950.7 L1136.6,951.5 L1137.8,951.8 L1139.1,952.2 L1140.3,952.3 L1141.6,952.4 L1142.9,952.7 L1144.1,952.9 L1145.4,953.2 L1146.6,957.0 L1147.9,958.8 L1149.2,959.8 L1150.4,960.4 L1151.7,961.0 L1153.0,961.6 L1154.2,963.5 L1155.5,982.3 L1156.7,967.3 L1158.0,985.1 L1159.3,968.2 L1160.5,988.1 L1161.8,969.8 L1163.0,998.9 L1164.3,970.6 L1165.6,973.5 L1166.8,971.2 L1168.1,971.8 L1169.3,971.5 L1170.6,971.4 L1171.9,971.4 L1173.1,971.3 L1174.4,971.6 L1175.6,972.0 L1176.9,972.5 L1178.2,972.9 L1179.4,973.3 L1180.7,973.7 L1182.0,971.4 L1183.2,993.5 L1184.5,974.9 L1185.7,976.2 L1187.0,977.4 L1188.3,980.1 L1189.5,981.4 L1190.8,991.3 L1192.0,984.6 L1193.3,993.8 L1194.6,986.8 L1195.8,1002.9 L1197.1,987.5 L1198.3,1005.5 L1199.6,987.3 L1200.9,1001.2 L1202.1,986.7 L1203.4,998.6 L1204.6,984.9 L1205.9,996.2 L1207.2,981.7 L1208.4,995.1 L1209.7,984.0 L1211.0,995.2 L1212.2,986.0 L1213.5,989.4 L1214.7,987.4 L1216.0,988.0 L1217.3,988.1 L1218.5,988.5 L1219.8,988.9 L1221.0,988.9 L1222.3,988.4 L1223.6,988.0 L1224.8,987.5 L1226.1,986.8 L1227.3,986.3 L1228.6,1006.2 L1229.9,985.8 L1231.1,986.7 L1232.4,988.1 L1233.6,989.2 L1234.9,990.0 L1236.2,990.5 L1237.4,991.2 L1238.7,991.5 L1240.0,992.0 L1241.2,992.3 L1242.5,992.6 L1243.7,995.5 L1245.0,987.3 L1246.3,998.9 L1247.5,1000.3 L1248.8,1003.3 L1250.0,1002.3 L1251.3,1012.3 L1252.6,1003.2 L1253.8,1014.0 L1255.1,1003.3 L1256.3,1017.6 L1257.6,1003.1 L1258.9,1003.3 L1260.1,1002.5 L1261.4,1002.1 L1262.6,1001.9 L1263.9,1001.7 L1265.2,1001.8 L1266.4,1002.0 L1267.7,1003.2 L1268.9,1004.1 L1270.2,1004.7 L1271.5,1005.2 L1272.7,1005.5 L1274.0,1005.9 L1275.3,1006.5 L1276.5,1007.3 L1277.8,1007.3 L1279.0,1007.3 L1280.3,1007.5 L1281.6,1007.7 L1282.8,1007.9 L1284.1,1008.4 L1285.3,1008.8 L1286.6,1009.3 L1287.9,1009.9 L1289.1,1010.5 L1290.4,1011.0 L1291.6,1011.6 L1292.9,1012.0 L1294.2,1012.3 L1295.4,1006.2 L1296.7,1014.0 L1297.9,1011.1 L1299.2,1025.4 L1300.5,1010.2 L1301.7,1012.2 L1303.0,1009.4 L1304.3,1009.4 L1305.5,1008.5 L1306.8,1009.5 L1308.0,1010.2 L1309.3,1010.8 L1310.6,1011.4 L1311.8,1012.0 L1313.1,1013.4 L1314.3,1015.3 L1315.6,1016.8 L1316.9,1017.7 L1318.1,1018.2 L1319.4,1018.7 L1320.6,1019.3 L1321.9,1020.3 L1323.2,1021.3 L1324.4,1021.5 L1325.7,1021.4 L1326.9,1022.8 L1328.2,1021.1 L1329.5,1032.5 L1330.7,1021.5 L1332.0,1022.5 L1333.3,1022.6 L1334.5,1022.9 L1335.8,1023.5 L1337.0,1023.9 L1338.3,1024.4 L1339.6,1024.7 L1340.8,1018.2 L1342.1,1025.6 L1343.3,1025.0 L1344.6,1025.3 L1345.9,1025.1 L1347.1,1024.9 L1348.4,1024.6 L1349.6,1024.4 L1350.9,1024.3 L1352.2,1024.3 L1353.4,1024.3 L1354.7,1024.3 L1355.9,1024.6 L1357.2,1034.7 L1358.5,1025.3 L1359.7,1027.9 L1361.0,1025.9 L1362.3,1030.5 L1363.5,1026.5 L1364.8,1027.7 L1366.0,1026.8 L1367.3,1026.9 L1368.6,1026.9 L1369.8,1027.1 L1371.1,1027.4 L1372.3,1027.9 L1373.6,1028.4 L1374.9,1028.9 L1376.1,1029.5 L1377.4,1030.0 L1378.6,1030.4 L1379.9,1030.8 L1381.2,1031.0 L1382.4,1031.1 L1383.7,1030.5 L1384.9,1031.0 L1386.2,1023.2 L1387.5,1030.5 L1388.7,1030.6 L1390.0,1030.7 L1391.3,1031.1 L1392.5,1031.4 L1393.8,1032.2 L1395.0,1032.8 L1396.3,1033.3 L1397.6,1033.7 L1398.8,1034.1 L1400.1,1034.1 L1401.3,1033.9 L1402.6,1033.8 L1403.9,1033.2 L1405.1,1034.6 L1406.4,1034.2 L1407.6,1048.8 L1408.9,1036.4 L1410.2,1036.7 L1411.4,1037.1 L1412.7,1037.3 L1413.9,1037.7 L1415.2,1038.3 L1416.5,1038.8 L1417.7,1038.9 L1419.0,1039.2 L1420.2,1039.5 L1421.5,1039.9 L1422.8,1040.1 L1424.0,1040.3 L1425.3,1047.7 L1426.6,1040.6 L1427.8,1041.5 L1429.1,1040.9 L1430.3,1040.9 L1431.6,1040.9 L1432.9,1040.6 L1434.1,1040.1 L1435.4,1039.7 L1436.6,1039.4 L1437.9,1039.0 L1439.2,1038.4 L1440.4,1037.7 L1441.7,1038.1 L1442.9,1039.2 L1444.2,1040.0 L1445.5,1040.8 L1446.7,1041.3 L1448.0,1041.6 L1449.2,1042.1 L1450.5,1042.0 L1451.8,1041.6 L1453.0,1041.3 L1454.3,1041.1 L1455.6,1041.2 L1456.8,1041.5 L1458.1,1041.9 L1459.3,1042.4 L1460.6,1043.0 L1461.9,1043.5 L1463.1,1049.8 L1464.4,1044.5 L1465.6,1044.5 L1466.9,1044.5 L1468.2,1044.5 L1469.4,1044.5 L1470.7,1044.5 L1471.9,1044.3 L1473.2,1044.3 L1474.5,1044.4 L1475.7,1044.5 L1477.0,1044.5 L1478.2,1044.2 L1479.5,1044.0 L1480.8,1043.8 L1482.0,1043.8 L1483.3,1044.5 L1484.6,1044.9 L1485.8,1045.3 L1487.1,1045.2 L1488.3,1045.1 L1489.6,1044.7 L1490.9,1044.4 L1492.1,1042.3 L1493.4,1044.8 L1494.6,1045.4 L1495.9,1045.8 L1497.2,1046.3 L1498.4,1046.8 L1499.7,1047.5 L1500.9,1048.0 L1502.2,1048.3 L1503.5,1048.5 L1504.7,1048.8 L1506.0,1048.9 L1507.2,1048.9 L1508.5,1049.0 L1509.8,1049.3 L1511.0,1049.4 L1512.3,1042.3 L1513.6,1049.6 L1514.8,1049.3 L1516.1,1048.9 L1517.3,1048.6 L1518.6,1048.3 L1519.9,1047.8 L1521.1,1047.1 L1522.4,1046.7 L1523.6,1046.8 L1524.9,1047.1 L1526.2,1048.0 L1527.4,1048.8 L1528.7,1049.3 L1529.9,1049.6 L1531.2,1049.9 L1532.5,1050.2 L1533.7,1050.5 L1535.0,1050.3 L1536.2,1050.3 L1537.5,1050.5 L1538.8,1050.8 L1540.0,1051.5 L1541.3,1052.2 L1542.6,1052.5 L1543.8,1052.6 L1545.1,1052.4 L1546.3,1052.0 L1547.6,1046.2 L1548.9,1050.3 L1550.1,1048.5 L1551.4,1048.2 L1552.6,1048.5 L1553.9,1048.2 L1555.2,1048.2 L1556.4,1047.8 L1557.7,1047.1 L1558.9,1059.7 L1560.2,1046.8 L1561.5,1054.2 L1562.7,1048.3 L1564.0,1059.7 L1565.2,1050.5 L1566.5,1050.8 L1567.8,1051.3 L1569.0,1051.6 L1570.3,1052.0 L1571.6,1052.5 L1572.8,1053.0 L1574.1,1053.0 L1575.3,1052.8 L1576.6,1052.5 L1577.9,1052.2 L1579.1,1051.9 L1580.4,1051.4 L1581.6,1051.2 L1582.9,1051.0 L1584.2,1059.7 L1585.4,1050.8 L1586.7,1050.6 L1587.9,1050.6 L1589.2,1050.4 L1590.5,1048.0 L1591.7,1051.4 L1593.0,1051.8 L1594.2,1052.1 L1595.5,1052.5 L1596.8,1052.7 L1598.0,1052.6 L1599.3,1052.0 L1600.5,1051.4 L1601.8,1050.5 L1603.1,1050.1 L1604.3,1049.8 L1605.6,1050.0 L1606.9,1051.2 L1608.1,1052.1 L1609.4,1052.8 L1610.6,1054.0 L1611.9,1059.4 L1613.2,1055.0 L1614.4,1060.7 L1615.7,1054.8 L1616.9,1055.1 L1618.2,1054.5 L1619.5,1054.5 L1620.7,1054.7 L1622.0,1054.8 L1623.2,1055.1 L1624.5,1055.5 L1625.8,1055.9 L1627.0,1056.5 L1628.3,1057.0 L1629.5,1057.5 L1630.8,1057.8 L1632.1,1057.6 L1633.3,1057.4 L1634.6,1057.2 L1635.9,1057.1 L1637.1,1056.9 L1638.4,1056.4 L1639.6,1056.1 L1640.9,1055.9 L1642.2,1055.6 L1643.4,1055.2 L1644.7,1054.8 L1645.9,1054.6 L1647.2,1054.4 L1648.5,1054.1 L1649.7,1053.8 L1651.0,1053.7 L1652.2,1053.8 L1653.5,1053.7 L1654.8,1053.6 L1656.0,1053.5 L1657.3,1053.5 L1658.5,1053.7 L1659.8,1054.0 L1661.1,1051.2 L1662.3,1054.4 L1663.6,1055.3 L1664.9,1055.7 L1666.1,1056.1 L1667.4,1056.3 L1668.6,1056.6 L1669.9,1057.0 L1671.2,1057.5 L1672.4,1058.1 L1673.7,1059.6 L1674.9,1059.6 L1676.2,1059.6 L1677.5,1059.7 L1678.7,1059.7 L1680.0,1059.8 L1681.2,1059.8 L1682.5,1058.7 L1683.8,1058.3 L1685.0,1057.9 L1686.3,1057.9 L1687.5,1057.7 L1688.8,1053.0 L1690.1,1057.4 L1691.3,1057.0 L1692.6,1057.3 L1693.9,1057.0 L1695.1,1056.6 L1696.4,1056.1 L1697.6,1055.8 L1698.9,1055.9 L1700.2,1056.3 L1701.4,1056.7 L1702.7,1057.3 L1703.9,1057.5 L1705.2,1061.4 L1706.5,1057.6 L1707.7,1061.7 L1709.0,1057.8 L1710.2,1058.1 L1711.5,1057.6 L1712.8,1057.5 L1714.0,1057.7 L1715.3,1058.1 L1716.5,1058.6 L1717.8,1059.2 L1719.1,1059.8 L1720.3,1060.3 L1721.6,1060.7 L1722.9,1060.9 L1724.1,1060.8 L1725.4,1060.1 L1726.6,1059.5 L1727.9,1059.0 L1729.2,1058.4 L1730.4,1057.8 L1731.7,1057.1 L1732.9,1056.2 L1734.2,1055.6 L1735.5,1055.5 L1736.7,1055.9 L1738.0,1056.3 L1739.2,1056.8 L1740.5,1057.3 L1741.8,1057.8 L1743.0,1058.5 L1744.3,1059.2" stroke="#ff0000"/>
<path d="M227.5,1057.5 L230.0,1055.5 L232.5,1055.8 L235.1,1057.5 L237.6,1058.2 L240.1,1059.0 L242.6,1058.5 L245.2,1061.7 L247.7,1058.7 L250.2,1059.5 L252.7,1058.6 L255.2,1058.0 L257.8,1058.9 L260.3,1060.5 L262.8,1057.4 L265.3,1056.2 L267.8,1057.6 L270.4,1060.2 L272.9,1057.3 L277.5,1055.0 L280.0,1051.5 L282.5,1050.5 L285.0,1050.5 L287.5,1050.0 L290.0,1049.0 L292.5,1045.0 L295.5,1050.0 L298.0,1052.0 L300.5,1044.5 L303.0,1043.0 L305.5,1040.0 L308.0,1035.0 L310.5,1028.5 L313.0,1021.0 L315.8,1012.8 L318.3,997.8 L320.8,993.4 L323.3,979.8 L325.8,977.3 L328.4,962.6 L330.9,959.2 L333.4,932.4 L335.9,911.1 L338.5,886.3 L341.0,878.6 L343.5,838.1 L346.0,822.3 L348.5,797.2 L351.1,777.3 L353.6,719.3 L356.1,696.3 L358.6,702.5 L361.1,687.6 L363.7,641.8 L366.2,626.3 L368.7,606.8 L371.2,557.8 L373.8,551.9 L376.3,493.1 L378.8,503.2 L381.3,464.5 L383.8,458.3 L386.4,369.7 L388.9,384.1 L391.4,396.3 L393.9,383.3 L396.5,314.4 L397.7,310.2 L399.0,309.9 L400.2,309.5 L401.5,308.5 L402.8,302.6 L404.0,283.9 L405.3,272.0 L406.5,279.0 L407.8,261.2 L409.1,277.9 L410.3,258.3 L411.6,249.2 L412.8,228.7 L414.1,228.9 L415.4,212.4 L416.6,227.2 L417.9,211.1 L419.1,226.6 L420.4,189.1 L421.7,186.3 L422.9,174.5 L424.2,183.5 L425.5,173.7 L426.7,182.7 L428.0,171.1 L429.2,182.1 L430.5,167.2 L431.8,181.8 L433.0,163.3 L436.0,142.6 L436.7,130.1 L438.1,181.4 L446.7,142.6 L450.2,153.0 L451.6,123.0 L456.6,125.6 L461.6,123.0 L465.1,167.9 L470.8,123.0 L481.5,212.0 L490.0,160.0 L499.9,190.2 L504.9,256.0 L510.6,219.1 L516.3,270.5 L520.5,249.2 L522.5,272.1 L523.8,273.4 L525.1,307.8 L526.3,292.0 L527.6,306.0 L528.8,304.5 L530.1,307.3 L531.4,306.6 L532.6,308.1 L533.9,307.3 L535.1,311.1 L536.4,319.0 L537.7,349.7 L538.9,325.9 L540.2,345.8 L541.4,326.9 L542.7,343.7 L544.0,327.3 L545.2,343.2 L546.5,329.1 L547.8,343.8 L549.0,338.7 L550.3,346.0 L551.5,341.9 L552.8,358.5 L554.1,344.2 L555.3,361.4 L556.6,352.5 L557.8,365.3 L559.1,357.2 L560.4,369.9 L561.6,358.8 L562.9,372.0 L564.1,374.9 L565.4,386.2 L566.7,390.4 L567.9,407.3 L569.2,392.2 L570.4,409.9 L571.7,405.4 L573.0,412.1 L574.2,409.5 L575.5,428.0 L576.8,410.5 L578.0,434.9 L579.3,410.4 L580.5,437.0 L581.8,409.8 L583.1,437.8 L584.3,408.6 L585.6,439.6 L586.8,410.7 L588.1,444.6 L589.4,412.9 L590.6,450.6 L591.9,422.1 L593.1,459.1 L594.4,443.7 L595.7,474.3 L596.9,446.5 L598.2,481.2 L599.4,447.7 L600.7,483.6 L602.0,449.2 L603.2,485.3 L604.5,477.3 L605.8,487.6 L607.0,483.8 L608.3,494.9 L609.5,491.3 L610.8,501.5 L612.1,494.7 L613.3,506.6 L614.6,496.0 L615.8,513.7 L617.1,497.8 L618.4,517.7 L619.6,505.0 L620.9,520.9 L622.1,513.0 L623.4,524.5 L624.7,521.2 L625.9,528.3 L627.2,524.7 L628.4,532.5 L629.7,537.3 L631.0,540.5 L632.2,543.2 L633.5,545.5 L634.7,547.2 L636.0,548.8 L637.3,550.3 L638.5,551.9 L639.8,553.1 L641.1,555.2 L642.3,555.0 L643.6,559.0 L644.8,557.6 L646.1,567.3 L647.4,560.5 L648.6,581.7 L649.9,568.3 L651.1,589.8 L652.4,572.4 L653.7,596.9 L654.9,573.6 L656.2,598.5 L657.4,573.8 L658.7,599.0 L660.0,573.6 L661.2,600.2 L662.5,572.2 L663.7,602.2 L665.0,568.5 L666.3,605.6 L667.5,562.1 L668.8,616.5 L670.1,566.5 L671.3,629.9 L672.6,572.2 L673.8,633.1 L675.1,573.6 L676.4,633.0 L677.6,573.8 L678.9,632.5 L680.1,573.8 L681.4,632.7 L682.7,578.7 L683.9,634.1 L685.2,583.0 L686.4,636.5 L687.7,589.9 L689.0,639.2 L690.2,605.4 L691.5,642.2 L692.7,613.0 L694.0,648.9 L695.3,614.7 L696.5,652.2 L697.8,615.1 L699.1,654.5 L700.3,615.4 L701.6,662.0 L702.8,615.7 L704.1,666.8 L705.4,616.0 L706.6,668.5 L707.9,616.3 L709.1,666.8 L710.4,616.2 L711.7,665.1 L712.9,614.3 L714.2,664.8 L715.4,626.5 L716.7,665.6 L718.0,646.7 L719.2,668.3 L720.5,650.3 L721.7,674.3 L723.0,651.6 L724.3,675.5 L725.5,651.7 L726.8,676.6 L728.1,650.9 L729.3,679.7 L730.6,649.7 L731.8,686.8 L733.1,663.8 L734.4,688.9 L735.6,667.5 L736.9,691.2 L738.1,669.2 L739.4,698.8 L740.7,669.5 L741.9,700.5 L743.2,668.9 L744.4,701.2 L745.7,667.0 L747.0,700.9 L748.2,677.4 L749.5,701.6 L750.7,681.6 L752.0,704.4 L753.3,684.1 L754.5,708.9 L755.8,684.9 L757.1,710.7 L758.3,684.6 L759.6,713.6 L760.8,677.4 L762.1,718.2 L763.4,681.8 L764.6,721.4 L765.9,685.4 L767.1,719.3 L768.4,686.5 L769.7,717.6 L770.9,686.7 L772.2,717.2 L773.4,701.1 L774.7,718.0 L776.0,686.7 L777.2,720.2 L778.5,706.7 L779.7,724.6 L781.0,707.5 L782.3,726.5 L783.5,707.8 L784.8,728.6 L786.0,707.2 L787.3,731.5 L788.6,705.0 L789.8,731.9 L791.1,703.0 L792.4,732.6 L793.6,703.1 L794.9,733.8 L796.1,709.2 L797.4,733.8 L798.7,711.8 L799.9,733.6 L801.2,718.8 L802.4,733.9 L803.7,723.1 L805.0,733.8 L806.2,726.0 L807.5,734.0 L808.7,728.3 L810.0,735.0 L811.3,729.1 L812.5,736.2 L813.8,729.0 L815.0,737.9 L816.3,728.3 L817.6,742.5 L818.8,727.7 L820.1,746.3 L821.4,727.1 L822.6,750.3 L823.9,735.5 L825.1,751.9 L826.4,739.6 L827.7,752.2 L828.9,748.7 L830.2,752.2 L831.4,750.8 L832.7,751.4 L834.0,751.2 L835.2,751.8 L836.5,752.3 L837.7,752.7 L839.0,753.4 L840.3,756.0 L841.5,758.0 L842.8,759.8 L844.0,762.9 L845.3,776.5 L846.6,766.9 L847.8,772.7 L849.1,766.7 L850.4,765.9 L851.6,765.9 L852.9,766.5 L854.1,766.9 L855.4,767.6 L856.7,768.3 L857.9,768.9 L859.2,769.7 L860.4,770.9 L861.7,772.5 L863.0,773.7 L864.2,755.2 L865.5,776.7 L866.7,765.1 L868.0,782.4 L869.3,767.4 L870.5,783.9 L871.8,768.3 L873.0,783.4 L874.3,768.7 L875.6,783.2 L876.8,769.0 L878.1,783.6 L879.4,769.3 L880.6,783.9 L881.9,769.5 L883.1,781.0 L884.4,771.7 L885.7,779.7 L886.9,773.4 L888.2,779.6 L889.4,774.0 L890.7,780.6 L892.0,774.1 L893.2,785.5 L894.5,785.7 L895.7,815.3 L897.0,788.5 L898.3,813.6 L899.5,789.3 L900.8,812.3 L902.0,789.1 L903.3,811.3 L904.6,789.3 L905.8,810.4 L907.1,792.4 L908.4,809.7 L909.6,798.3 L910.9,805.9 L912.1,802.1 L913.4,805.0 L914.7,806.3 L915.9,807.8 L917.2,809.4 L918.4,810.8 L919.7,812.0 L921.0,813.2 L922.2,814.2 L923.5,815.7 L924.7,817.9 L926.0,819.1 L927.3,819.4 L928.5,818.5 L929.8,817.7 L931.0,817.5 L932.3,816.4 L933.6,816.5 L934.8,815.7 L936.1,816.0 L937.4,813.7 L938.6,846.5 L939.9,810.0 L941.1,846.5 L942.4,810.6 L943.7,829.6 L944.9,810.1 L946.2,827.5 L947.4,807.9 L948.7,827.0 L950.0,798.1 L951.2,828.4 L952.5,829.7 L953.7,830.8 L955.0,832.0 L956.3,832.5 L957.5,832.8 L958.8,833.2 L960.0,833.7 L961.3,834.3 L962.6,836.1 L963.8,837.1 L965.1,825.8 L966.3,838.7 L967.6,839.4 L968.9,839.8 L970.1,840.3 L971.4,840.8 L972.7,840.5 L973.9,841.1 L975.2,839.8 L976.4,843.3 L977.7,842.2 L979.0,872.0 L980.2,846.2 L981.5,869.4 L982.7,851.2 L984.0,869.5 L985.3,854.1 L986.5,870.4 L987.8,855.0 L989.0,871.7 L990.3,854.8 L991.6,873.5 L992.8,843.1 L994.1,870.9 L995.3,842.9 L996.6,870.8 L997.9,844.8 L999.1,871.8 L1000.4,846.0 L1001.7,873.0 L1002.9,846.6 L1004.2,874.4 L1005.4,864.6 L1006.7,877.4 L1008.0,867.4 L1009.2,891.2 L1010.5,868.2 L1011.7,889.9 L1013.0,867.9 L1014.3,889.2 L1015.5,868.0 L1016.8,888.0 L1018.0,869.5 L1019.3,887.8 L1020.6,874.5 L1021.8,888.3 L1023.1,877.3 L1024.3,888.8 L1025.6,878.3 L1026.9,889.3 L1028.1,879.1 L1029.4,891.0 L1030.7,880.7 L1031.9,895.6 L1033.2,882.0 L1034.4,903.6 L1035.7,884.0 L1037.0,913.5 L1038.2,884.5 L1039.5,914.7 L1040.7,884.2 L1042.0,907.9 L1043.3,884.9 L1044.5,906.2 L1045.8,888.2 L1047.0,905.7 L1048.3,891.3 L1049.6,906.4 L1050.8,893.6 L1052.1,908.6 L1053.3,895.0 L1054.6,915.8 L1055.9,895.9 L1057.1,918.5 L1058.4,896.9 L1059.7,919.2 L1060.9,900.6 L1062.2,920.9 L1063.4,901.6 L1064.7,925.1 L1066.0,902.0 L1067.2,927.7 L1068.5,902.7 L1069.7,928.4 L1071.0,904.7 L1072.3,929.1 L1073.5,906.0 L1074.8,930.4 L1076.0,912.5 L1077.3,932.1 L1078.6,917.6 L1079.8,934.3 L1081.1,919.2 L1082.3,939.8 L1083.6,920.6 L1084.9,945.9 L1086.1,922.5 L1087.4,945.4 L1088.7,924.7 L1089.9,944.8 L1091.2,926.7 L1092.4,944.5 L1093.7,928.9 L1095.0,945.3 L1096.2,931.3 L1097.5,954.4 L1098.7,932.7 L1100.0,952.8 L1101.3,933.2 L1102.5,953.4 L1103.8,933.6 L1105.0,953.1 L1106.3,936.4 L1107.6,953.8 L1108.8,939.5 L1110.1,955.8 L1111.3,940.5 L1112.6,958.3 L1113.9,941.1 L1115.1,960.9 L1116.4,941.5 L1117.6,962.3 L1118.9,941.9 L1120.2,962.8 L1121.4,942.3 L1122.7,963.4 L1124.0,943.2 L1125.2,964.2 L1126.5,945.3 L1127.7,965.4 L1129.0,947.7 L1130.3,968.4 L1131.5,949.0 L1132.8,976.6 L1134.0,951.4 L1135.3,980.0 L1136.6,952.8 L1137.8,980.4 L1139.1,952.9 L1140.3,980.7 L1141.6,952.7 L1142.9,981.4 L1144.1,952.9 L1145.4,976.7 L1146.6,960.9 L1147.9,969.6 L1149.2,965.8 L1150.4,967.4 L1151.7,966.8 L1153.0,966.9 L1154.2,966.9 L1155.5,967.0 L1156.7,967.1 L1158.0,967.5 L1159.3,967.9 L1160.5,968.4 L1161.8,969.0 L1163.0,969.5 L1164.3,969.9 L1165.6,970.4 L1166.8,970.9 L1168.1,971.2 L1169.3,971.3 L1170.6,971.5 L1171.9,962.9 L1173.1,972.3 L1174.4,972.0 L1175.6,975.1 L1176.9,973.2 L1178.2,991.8 L1179.4,973.6 L1180.7,992.7 L1182.0,973.8 L1183.2,988.9 L1184.5,975.7 L1185.7,980.3 L1187.0,978.9 L1188.3,979.7 L1189.5,979.8 L1190.8,980.5 L1192.0,981.8 L1193.3,983.0 L1194.6,983.9 L1195.8,985.1 L1197.1,985.7 L1198.3,999.1 L1199.6,986.4 L1200.9,987.1 L1202.1,986.7 L1203.4,991.1 L1204.6,984.9 L1205.9,992.5 L1207.2,981.7 L1208.4,992.2 L1209.7,984.0 L1211.0,992.8 L1212.2,986.0 L1213.5,994.5 L1214.7,987.4 L1216.0,996.4 L1217.3,988.4 L1218.5,998.6 L1219.8,989.4 L1221.0,1007.7 L1222.3,989.3 L1223.6,1006.8 L1224.8,988.2 L1226.1,1005.6 L1227.3,986.5 L1228.6,1003.3 L1229.9,985.8 L1231.1,1001.3 L1232.4,989.6 L1233.6,1000.8 L1234.9,992.9 L1236.2,1001.2 L1237.4,994.6 L1238.7,1002.6 L1240.0,997.0 L1241.2,1006.2 L1242.5,999.3 L1243.7,999.8 L1245.0,1000.0 L1246.3,1000.5 L1247.5,1000.9 L1248.8,1001.5 L1250.0,1001.7 L1251.3,1002.0 L1252.6,995.2 L1253.8,1003.1 L1255.1,1002.2 L1256.3,1008.0 L1257.6,1003.0 L1258.9,1016.6 L1260.1,1002.7 L1261.4,1017.2 L1262.6,1002.0 L1263.9,1017.9 L1265.2,1001.9 L1266.4,1018.5 L1267.7,1004.2 L1268.9,1019.1 L1270.2,1006.5 L1271.5,1019.4 L1272.7,1007.3 L1274.0,1019.7 L1275.3,1007.3 L1276.5,1019.4 L1277.8,1007.3 L1279.0,1019.2 L1280.3,1007.6 L1281.6,1019.2 L1282.8,1008.0 L1284.1,1020.1 L1285.3,1009.3 L1286.6,1021.8 L1287.9,1010.6 L1289.1,1022.6 L1290.4,1011.7 L1291.6,1022.1 L1292.9,1012.4 L1294.2,1021.5 L1295.4,1012.1 L1296.7,1020.3 L1297.9,1011.6 L1299.2,1019.1 L1300.5,1010.5 L1301.7,1018.3 L1303.0,1009.4 L1304.3,1017.8 L1305.5,1008.5 L1306.8,1018.3 L1308.0,1011.8 L1309.3,1020.0 L1310.6,1013.3 L1311.8,1037.5 L1313.1,1015.9 L1314.3,1035.6 L1315.6,1019.7 L1316.9,1033.2 L1318.1,1020.7 L1319.4,1031.0 L1320.6,1021.1 L1321.9,1030.1 L1323.2,1021.3 L1324.4,1029.2 L1325.7,1016.5 L1326.9,1029.1 L1328.2,1020.4 L1329.5,1029.8 L1330.7,1021.5 L1332.0,1030.6 L1333.3,1022.9 L1334.5,1032.0 L1335.8,1024.3 L1337.0,1033.9 L1338.3,1025.2 L1339.6,1035.1 L1340.8,1025.5 L1342.1,1035.4 L1343.3,1025.6 L1344.6,1033.9 L1345.9,1025.4 L1347.1,1032.9 L1348.4,1024.7 L1349.6,1032.0 L1350.9,1024.3 L1352.2,1031.2 L1353.4,1023.2 L1354.7,1027.3 L1355.9,1016.1 L1357.2,1025.7 L1358.5,1018.0 L1359.7,1025.3 L1361.0,1018.6 L1362.3,1025.9 L1363.5,1019.2 L1364.8,1026.5 L1366.0,1025.1 L1367.3,1027.5 L1368.6,1026.8 L1369.8,1032.4 L1371.1,1027.7 L1372.3,1037.9 L1373.6,1029.0 L1374.9,1039.8 L1376.1,1030.1 L1377.4,1042.7 L1378.6,1030.7 L1379.9,1043.2 L1381.2,1031.1 L1382.4,1040.8 L1383.7,1031.2 L1384.9,1040.4 L1386.2,1031.0 L1387.5,1041.2 L1388.7,1031.0 L1390.0,1043.2 L1391.3,1031.9 L1392.5,1043.2 L1393.8,1032.7 L1395.0,1043.2 L1396.3,1033.6 L1397.6,1042.3 L1398.8,1034.5 L1400.1,1043.4 L1401.3,1034.4 L1402.6,1042.5 L1403.9,1033.2 L1405.1,1042.1 L1406.4,1034.2 L1407.6,1042.5 L1408.9,1037.2 L1410.2,1044.1 L1411.4,1038.5 L1412.7,1050.8 L1413.9,1038.7 L1415.2,1049.2 L1416.5,1038.8 L1417.7,1042.2 L1419.0,1039.4 L1420.2,1040.5 L1421.5,1040.1 L1422.8,1040.2 L1424.0,1040.2 L1425.3,1040.4 L1426.6,1040.5 L1427.8,1040.7 L1429.1,1040.8 L1430.3,1040.9 L1431.6,1040.9 L1432.9,1041.1 L1434.1,1040.9 L1435.4,1042.2 L1436.6,1040.7 L1437.9,1046.2 L1439.2,1039.5 L1440.4,1045.5 L1441.7,1039.0 L1442.9,1046.2 L1444.2,1041.8 L1445.5,1046.5 L1446.7,1042.9 L1448.0,1047.6 L1449.2,1042.8 L1450.5,1049.1 L1451.8,1041.8 L1453.0,1052.6 L1454.3,1041.2 L1455.6,1046.7 L1456.8,1041.8 L1458.1,1042.0 L1459.3,1041.8 L1460.6,1041.7 L1461.9,1041.6 L1463.1,1041.4 L1464.4,1041.2 L1465.6,1041.0 L1466.9,1038.3 L1468.2,1042.9 L1469.4,1044.1 L1470.7,1049.8 L1471.9,1044.4 L1473.2,1046.0 L1474.5,1044.5 L1475.7,1044.6 L1477.0,1044.5 L1478.2,1044.2 L1479.5,1044.0 L1480.8,1043.8 L1482.0,1043.8 L1483.3,1049.1 L1484.6,1045.6 L1485.8,1046.2 L1487.1,1046.9 L1488.3,1047.6 L1489.6,1048.6 L1490.9,1048.7 L1492.1,1048.3 L1493.4,1049.1 L1494.6,1047.9 L1495.9,1047.8 L1497.2,1047.6 L1498.4,1047.7 L1499.7,1047.8 L1500.9,1048.0 L1502.2,1048.3 L1503.5,1048.5 L1504.7,1048.8 L1506.0,1048.9 L1507.2,1048.9 L1508.5,1049.0 L1509.8,1049.3 L1511.0,1049.5 L1512.3,1049.6 L1513.6,1049.6 L1514.8,1042.6 L1516.1,1048.4 L1517.3,1047.9 L1518.6,1047.6 L1519.9,1047.2 L1521.1,1046.9 L1522.4,1046.7 L1523.6,1046.8 L1524.9,1047.1 L1526.2,1048.0 L1527.4,1048.8 L1528.7,1049.2 L1529.9,1049.6 L1531.2,1049.7 L1532.5,1050.1 L1533.7,1049.8 L1535.0,1044.0 L1536.2,1049.5 L1537.5,1049.7 L1538.8,1049.8 L1540.0,1050.5 L1541.3,1051.3 L1542.6,1052.3 L1543.8,1053.2 L1545.1,1054.0 L1546.3,1054.5 L1547.6,1054.4 L1548.9,1054.8 L1550.1,1053.7 L1551.4,1053.2 L1552.6,1052.3 L1553.9,1053.3 L1555.2,1050.1 L1556.4,1052.5 L1557.7,1047.1 L1558.9,1051.9 L1560.2,1046.8 L1561.5,1052.5 L1562.7,1048.3 L1564.0,1054.0 L1565.2,1050.5 L1566.5,1056.2 L1567.8,1051.7 L1569.0,1051.2 L1570.3,1051.1 L1571.6,1050.7 L1572.8,1048.0 L1574.1,1050.9 L1575.3,1051.3 L1576.6,1051.6 L1577.9,1051.8 L1579.1,1058.7 L1580.4,1051.6 L1581.6,1051.6 L1582.9,1051.1 L1584.2,1050.7 L1585.4,1050.9 L1586.7,1051.3 L1587.9,1051.8 L1589.2,1052.3 L1590.5,1052.9 L1591.7,1053.9 L1593.0,1053.9 L1594.2,1060.7 L1595.5,1054.3 L1596.8,1059.9 L1598.0,1054.0 L1599.3,1053.2 L1600.5,1051.7 L1601.8,1050.6 L1603.1,1050.1 L1604.3,1049.8 L1605.6,1050.0 L1606.9,1051.1 L1608.1,1051.8 L1609.4,1052.3 L1610.6,1052.7 L1611.9,1053.1 L1613.2,1053.5 L1614.4,1054.0 L1615.7,1054.7 L1616.9,1054.6 L1618.2,1054.5 L1619.5,1054.5 L1620.7,1054.7 L1622.0,1060.4 L1623.2,1055.3 L1624.5,1060.3 L1625.8,1056.5 L1627.0,1060.4 L1628.3,1057.7 L1629.5,1058.6 L1630.8,1057.6 L1632.1,1056.4 L1633.3,1055.9 L1634.6,1055.1 L1635.9,1049.1 L1637.1,1053.6 L1638.4,1049.0 L1639.6,1053.9 L1640.9,1053.9 L1642.2,1054.1 L1643.4,1054.1 L1644.7,1054.5 L1645.9,1054.6 L1647.2,1054.7 L1648.5,1054.3 L1649.7,1055.7 L1651.0,1053.7 L1652.2,1059.4 L1653.5,1053.7 L1654.8,1059.8 L1656.0,1053.5 L1657.3,1055.8 L1658.5,1053.8 L1659.8,1055.0 L1661.1,1055.6 L1662.3,1056.2 L1663.6,1056.6 L1664.9,1057.0 L1666.1,1057.0 L1667.4,1056.9 L1668.6,1056.6 L1669.9,1056.3 L1671.2,1053.4 L1672.4,1055.3 L1673.7,1053.9 L1674.9,1054.3 L1676.2,1054.2 L1677.5,1057.1 L1678.7,1054.3 L1680.0,1061.7 L1681.2,1053.9 L1682.5,1056.1 L1683.8,1053.4 L1685.0,1057.2 L1686.3,1057.4 L1687.5,1057.7 L1688.8,1058.0 L1690.1,1058.2 L1691.3,1058.5 L1692.6,1058.1 L1693.9,1057.4 L1695.1,1056.7 L1696.4,1056.1 L1697.6,1055.8 L1698.9,1055.9 L1700.2,1056.3 L1701.4,1056.7 L1702.7,1057.1 L1703.9,1057.4 L1705.2,1056.7 L1706.5,1056.3 L1707.7,1056.0 L1709.0,1055.9 L1710.2,1055.7 L1711.5,1055.7 L1712.8,1055.4 L1714.0,1050.5 L1715.3,1055.3 L1716.5,1054.9 L1717.8,1056.9 L1719.1,1057.8 L1720.3,1060.6 L1721.6,1058.4 L1722.9,1058.7 L1724.1,1059.1 L1725.4,1059.7 L1726.6,1060.2 L1727.9,1059.7 L1729.2,1053.4 L1730.4,1059.2 L1731.7,1056.2 L1732.9,1059.7 L1734.2,1055.9 L1735.5,1061.3 L1736.7,1056.3 L1738.0,1061.7 L1739.2,1057.3 L1740.5,1060.9 L1741.8,1058.3 L1743.0,1060.4 L1744.3,1059.2" stroke="#00ff00"/>
<path d="M227.5,1056.7 L230.0,1060.3 L232.5,1060.3 L235.1,1055.9 L237.6,1056.3 L240.1,1056.0 L242.6,1061.5 L245.2,1058.9 L247.7,1058.8 L250.2,1059.7 L252.7,1057.5 L255.2,1058.7 L257.8,1057.3 L260.3,1059.8 L262.8,1057.6 L265.3,1059.5 L267.8,1060.5 L270.4,1058.8 L272.9,1060.2 L275.4,1057.2 L277.9,1057.1 L280.5,1059.0 L283.0,1057.9 L285.5,1054.2 L288.0,1056.5 L290.5,1050.0 L293.0,1044.0 L295.5,1051.0 L298.0,1053.8 L300.5,1044.0 L303.0,1043.5 L305.5,1041.0 L308.0,1036.0 L310.5,1030.0 L313.0,1024.0 L315.8,1015.8 L318.3,1004.6 L320.8,991.2 L323.3,995.4 L325.8,986.5 L328.4,977.4 L330.9,959.0 L333.4,962.5 L335.9,928.6 L338.5,930.0 L341.0,906.6 L343.5,890.9 L346.0,873.5 L348.5,863.9 L351.1,838.8 L353.6,817.9 L356.1,801.5 L358.6,760.4 L361.1,736.2 L363.7,704.8 L366.2,687.9 L368.7,674.8 L371.2,638.7 L373.8,623.1 L376.3,601.1 L378.8,615.5 L381.3,561.9 L383.8,548.2 L386.4,521.3 L388.9,512.4 L391.4,455.1 L393.9,457.9 L396.5,427.9 L399.0,446.4 L401.5,422.8 L404.0,390.8 L406.5,373.0 L409.1,360.9 L411.6,377.5 L414.1,342.8 L417.2,336.8 L420.8,322.6 L423.7,314.0 L426.5,304.0 L428.2,292.8 L435.3,280.7 L440.3,277.9 L445.2,272.6 L451.6,292.9 L456.6,233.8 L470.8,292.9 L477.2,240.9 L478.4,259.5 L479.7,295.6 L480.9,285.1 L482.2,302.1 L483.4,291.3 L484.7,303.2 L486.0,292.7 L487.2,305.3 L488.5,293.2 L489.8,322.7 L491.0,293.6 L492.3,317.4 L493.5,294.4 L494.8,315.7 L496.1,299.6 L497.3,315.3 L498.6,307.3 L499.8,316.1 L501.1,311.5 L502.4,318.8 L503.6,314.4 L504.9,338.6 L506.1,315.5 L507.4,350.5 L508.7,315.4 L509.9,354.0 L511.2,314.9 L512.4,357.5 L513.7,335.0 L515.0,359.2 L516.2,345.5 L517.5,360.8 L518.8,349.7 L520.0,362.6 L521.3,359.7 L522.5,368.6 L523.8,363.2 L525.1,378.2 L526.3,365.4 L527.6,386.1 L528.8,368.1 L530.1,391.9 L531.4,380.8 L532.6,422.9 L533.9,395.4 L535.1,419.6 L536.4,402.1 L537.7,418.3 L538.9,404.5 L540.2,418.3 L541.4,406.7 L542.7,419.4 L544.0,408.9 L545.2,424.4 L546.5,410.0 L547.8,427.9 L549.0,410.7 L550.3,430.4 L551.5,417.3 L552.8,433.0 L554.1,420.1 L555.3,435.8 L556.6,421.4 L557.8,438.8 L559.1,433.1 L560.4,451.5 L561.6,440.3 L562.9,458.3 L564.1,443.1 L565.4,471.0 L566.7,449.1 L567.9,476.9 L569.2,454.8 L570.4,484.5 L571.7,457.5 L573.0,486.5 L574.2,458.3 L575.5,485.8 L576.8,457.9 L578.0,485.3 L579.3,456.6 L580.5,485.2 L581.8,452.0 L583.1,486.3 L584.3,467.9 L585.6,489.9 L586.8,487.0 L588.1,498.3 L589.4,496.4 L590.6,520.6 L591.9,503.3 L593.1,528.2 L594.4,507.8 L595.7,546.1 L596.9,510.1 L598.2,538.3 L599.4,512.2 L600.7,536.2 L602.0,513.9 L603.2,535.7 L604.5,523.9 L605.8,536.2 L607.0,534.0 L608.3,538.4 L609.5,536.1 L610.8,545.6 L612.1,536.7 L613.3,552.7 L614.6,536.1 L615.8,554.3 L617.1,535.2 L618.4,555.5 L619.6,534.3 L620.9,556.8 L622.1,533.3 L623.4,559.0 L624.7,529.7 L625.9,561.5 L627.2,542.6 L628.4,566.2 L629.7,556.3 L631.0,574.4 L632.2,558.0 L633.5,580.2 L634.7,558.9 L636.0,579.3 L637.3,562.0 L638.5,578.9 L639.8,568.1 L641.1,579.5 L642.3,576.5 L643.6,581.7 L644.8,584.5 L646.1,587.5 L647.4,587.1 L648.6,593.9 L649.9,587.9 L651.1,603.3 L652.4,587.7 L653.7,608.6 L654.9,587.3 L656.2,609.6 L657.4,593.0 L658.7,610.1 L660.0,606.2 L661.2,611.2 L662.5,611.0 L663.7,613.5 L665.0,614.6 L666.3,617.6 L667.5,615.9 L668.8,631.8 L670.1,616.0 L671.3,654.8 L672.6,615.2 L673.8,653.6 L675.1,611.4 L676.4,653.2 L677.6,612.3 L678.9,652.4 L680.1,612.9 L681.4,652.6 L682.7,621.1 L683.9,654.0 L685.2,631.9 L686.4,657.6 L687.7,634.3 L689.0,661.7 L690.2,643.8 L691.5,665.1 L692.7,648.6 L694.0,665.4 L695.3,649.8 L696.5,666.2 L697.8,650.6 L699.1,668.3 L700.3,651.5 L701.6,671.9 L702.8,651.8 L704.1,679.4 L705.4,651.3 L706.6,687.4 L707.9,650.1 L709.1,678.2 L710.4,653.7 L711.7,676.5 L712.9,657.4 L714.2,676.2 L715.4,658.8 L716.7,677.0 L718.0,659.1 L719.2,679.8 L720.5,667.3 L721.7,687.9 L723.0,672.7 L724.3,690.9 L725.5,674.9 L726.8,692.5 L728.1,677.1 L729.3,694.8 L730.6,678.5 L731.8,697.3 L733.1,679.0 L734.4,699.0 L735.6,683.0 L736.9,701.3 L738.1,689.1 L739.4,718.7 L740.7,690.8 L741.9,711.3 L743.2,691.7 L744.4,709.6 L745.7,692.8 L747.0,709.2 L748.2,694.3 L749.5,709.9 L750.7,698.6 L752.0,712.7 L753.3,713.6 L754.5,721.5 L755.8,718.6 L757.1,723.6 L758.3,719.9 L759.6,725.4 L760.8,720.1 L762.1,729.2 L763.4,719.1 L764.6,740.7 L765.9,715.6 L767.1,735.1 L768.4,706.5 L769.7,733.4 L770.9,700.9 L772.2,733.0 L773.4,704.1 L774.7,733.8 L776.0,708.6 L777.2,736.1 L778.5,719.5 L779.7,743.7 L781.0,721.7 L782.3,744.2 L783.5,722.7 L784.8,739.8 L786.0,723.7 L787.3,739.3 L788.6,725.6 L789.8,739.4 L791.1,727.9 L792.4,739.6 L793.6,729.0 L794.9,739.8 L796.1,728.9 L797.4,740.0 L798.7,727.8 L799.9,740.8 L801.2,726.0 L802.4,742.4 L803.7,724.4 L805.0,743.8 L806.2,723.6 L807.5,744.1 L808.7,737.7 L810.0,744.4 L811.3,739.2 L812.5,744.7 L813.8,740.4 L815.0,745.1 L816.3,741.5 L817.6,746.5 L818.8,742.7 L820.1,750.3 L821.4,744.0 L822.6,756.4 L823.9,744.8 L825.1,759.4 L826.4,744.5 L827.7,760.4 L828.9,743.3 L830.2,763.4 L831.4,741.8 L832.7,763.1 L834.0,740.3 L835.2,762.8 L836.5,738.1 L837.7,762.9 L839.0,744.0 L840.3,764.3 L841.5,756.4 L842.8,768.1 L844.0,759.8 L845.3,773.3 L846.6,760.8 L847.8,773.0 L849.1,760.7 L850.4,772.4 L851.6,759.3 L852.9,771.5 L854.1,755.9 L855.4,771.6 L856.7,764.3 L857.9,772.9 L859.2,769.7 L860.4,777.9 L861.7,772.9 L863.0,787.9 L864.2,774.0 L865.5,790.2 L866.7,774.9 L868.0,791.2 L869.3,775.3 L870.5,793.4 L871.8,774.7 L873.0,793.8 L874.3,773.3 L875.6,794.3 L876.8,771.8 L878.1,795.3 L879.4,771.1 L880.6,796.8 L881.9,772.4 L883.1,786.1 L884.4,773.7 L885.7,784.7 L886.9,774.7 L888.2,784.4 L889.4,775.4 L890.7,785.2 L892.0,776.4 L893.2,786.7 L894.5,781.6 L895.7,788.8 L897.0,784.5 L898.3,791.3 L899.5,785.2 L900.8,793.0 L902.0,784.9 L903.3,793.8 L904.6,783.9 L905.8,794.7 L907.1,782.2 L908.4,795.9 L909.6,786.3 L910.9,798.2 L912.1,789.9 L913.4,800.8 L914.7,791.0 L915.9,803.9 L917.2,797.7 L918.4,812.5 L919.7,803.1 L921.0,818.1 L922.2,804.8 L923.5,824.6 L924.7,805.1 L926.0,838.0 L927.3,804.4 L928.5,825.4 L929.8,803.3 L931.0,822.3 L932.3,802.5 L933.6,819.3 L934.8,802.0 L936.1,816.4 L937.4,801.0 L938.6,815.1 L939.9,804.5 L941.1,814.9 L942.4,810.8 L943.7,815.8 L944.9,813.0 L946.2,818.3 L947.4,813.8 L948.7,821.4 L950.0,814.3 L951.2,824.9 L952.5,814.7 L953.7,841.5 L955.0,816.0 L956.3,850.1 L957.5,817.9 L958.8,848.7 L960.0,819.6 L961.3,848.1 L962.6,829.3 L963.8,848.5 L965.1,831.4 L966.3,852.9 L967.6,831.9 L968.9,852.3 L970.1,831.3 L971.4,853.6 L972.7,829.2 L973.9,847.5 L975.2,826.3 L976.4,846.7 L977.7,831.2 L979.0,847.0 L980.2,835.3 L981.5,848.6 L982.7,844.3 L984.0,852.6 L985.3,850.2 L986.5,856.8 L987.8,852.5 L989.0,863.2 L990.3,853.3 L991.6,862.7 L992.8,852.9 L994.1,862.3 L995.3,851.5 L996.6,862.3 L997.9,849.4 L999.1,863.4 L1000.4,847.1 L1001.7,865.1 L1002.9,860.3 L1004.2,866.9 L1005.4,862.1 L1006.7,868.9 L1008.0,862.5 L1009.2,872.5 L1010.5,861.8 L1011.7,876.6 L1013.0,859.5 L1014.3,878.6 L1015.5,856.6 L1016.8,879.4 L1018.0,853.1 L1019.3,880.2 L1020.6,864.1 L1021.8,882.0 L1023.1,866.9 L1024.3,887.3 L1025.6,867.6 L1026.9,887.9 L1028.1,867.3 L1029.4,889.4 L1030.7,866.3 L1031.9,891.9 L1033.2,870.2 L1034.4,894.2 L1035.7,872.4 L1037.0,896.2 L1038.2,873.0 L1039.5,895.2 L1040.7,873.1 L1042.0,894.1 L1043.3,875.1 L1044.5,893.4 L1045.8,878.1 L1047.0,893.8 L1048.3,881.0 L1049.6,895.4 L1050.8,883.2 L1052.1,898.6 L1053.3,884.0 L1054.6,902.0 L1055.9,884.3 L1057.1,905.4 L1058.4,889.6 L1059.7,908.3 L1060.9,894.6 L1062.2,907.9 L1063.4,895.9 L1064.7,907.6 L1066.0,896.1 L1067.2,907.9 L1068.5,896.1 L1069.7,908.5 L1071.0,896.1 L1072.3,909.2 L1073.5,896.0 L1074.8,910.8 L1076.0,895.8 L1077.3,914.8 L1078.6,907.4 L1079.8,918.5 L1081.1,908.8 L1082.3,920.3 L1083.6,909.1 L1084.9,922.2 L1086.1,913.2 L1087.4,930.7 L1088.7,915.3 L1089.9,933.6 L1091.2,917.2 L1092.4,934.2 L1093.7,919.4 L1095.0,935.7 L1096.2,922.0 L1097.5,937.9 L1098.7,923.4 L1100.0,940.1 L1101.3,923.7 L1102.5,942.2 L1103.8,923.1 L1105.0,943.7 L1106.3,929.9 L1107.6,944.7 L1108.8,933.4 L1110.1,945.7 L1111.3,934.5 L1112.6,946.4 L1113.9,935.0 L1115.1,947.2 L1116.4,935.5 L1117.6,947.6 L1118.9,936.0 L1120.2,947.8 L1121.4,936.7 L1122.7,948.0 L1124.0,937.6 L1125.2,948.4 L1126.5,938.9 L1127.7,949.3 L1129.0,940.4 L1130.3,950.3 L1131.5,942.0 L1132.8,951.7 L1134.0,946.0 L1135.3,955.5 L1136.6,947.3 L1137.8,957.8 L1139.1,947.4 L1140.3,958.8 L1141.6,946.4 L1142.9,960.3 L1144.1,940.9 L1145.4,963.6 L1146.6,956.9 L1147.9,965.3 L1149.2,961.8 L1150.4,966.6 L1151.7,962.8 L1153.0,967.9 L1154.2,962.9 L1155.5,969.1 L1156.7,962.9 L1158.0,970.8 L1159.3,962.5 L1160.5,972.7 L1161.8,960.0 L1163.0,980.0 L1164.3,961.9 L1165.6,977.9 L1166.8,963.2 L1168.1,979.4 L1169.3,963.7 L1170.6,978.9 L1171.9,964.5 L1173.1,978.2 L1174.4,967.4 L1175.6,977.8 L1176.9,968.9 L1178.2,977.8 L1179.4,969.4 L1180.7,977.8 L1182.0,969.7 L1183.2,977.9 L1184.5,969.9 L1185.7,978.4 L1187.0,969.4 L1188.3,979.0 L1189.5,966.2 L1190.8,979.9 L1192.0,973.0 L1193.3,982.7 L1194.6,975.8 L1195.8,999.1 L1197.1,977.0 L1198.3,991.7 L1199.6,977.6 L1200.9,988.4 L1202.1,977.2 L1203.4,986.1 L1204.6,975.5 L1205.9,985.2 L1207.2,974.2 L1208.4,985.4 L1209.7,978.6 L1211.0,986.7 L1212.2,981.3 L1213.5,992.0 L1214.7,983.1 L1216.0,991.3 L1217.3,984.4 L1218.5,992.0 L1219.8,985.4 L1221.0,992.0 L1222.3,985.3 L1223.6,991.2 L1224.8,984.2 L1226.1,990.2 L1227.3,982.5 L1228.6,989.3 L1229.9,981.0 L1231.1,989.5 L1232.4,985.6 L1233.6,990.7 L1234.9,988.9 L1236.2,992.4 L1237.4,990.6 L1238.7,994.5 L1240.0,992.8 L1241.2,997.0 L1242.5,995.3 L1243.7,999.5 L1245.0,996.9 L1246.3,1002.3 L1247.5,998.0 L1248.8,1005.1 L1250.0,998.3 L1251.3,1006.0 L1252.6,997.5 L1253.8,1007.2 L1255.1,996.2 L1256.3,1012.6 L1257.6,994.8 L1258.9,1012.2 L1260.1,993.3 L1261.4,1011.6 L1262.6,992.3 L1263.9,1011.2 L1265.2,992.0 L1266.4,1011.2 L1267.7,999.9 L1268.9,1011.2 L1270.2,1002.5 L1271.5,1011.2 L1272.7,1003.3 L1274.0,1011.4 L1275.3,1003.1 L1276.5,1011.6 L1277.8,1002.8 L1279.0,1011.9 L1280.3,1002.5 L1281.6,1012.4 L1282.8,1002.2 L1284.1,1013.6 L1285.3,1001.9 L1286.6,1014.9 L1287.9,1005.1 L1289.1,1015.9 L1290.4,1006.7 L1291.6,1016.9 L1292.9,1007.5 L1294.2,1017.3 L1295.4,1007.2 L1296.7,1017.6 L1297.9,1006.0 L1299.2,1014.8 L1300.5,1004.8 L1301.7,1012.9 L1303.0,1003.3 L1304.3,1012.1 L1305.5,1003.6 L1306.8,1012.4 L1308.0,1003.8 L1309.3,1013.7 L1310.6,1004.8 L1311.8,1015.4 L1313.1,1011.7 L1314.3,1024.0 L1315.6,1015.7 L1316.9,1023.6 L1318.1,1016.7 L1319.4,1023.0 L1320.6,1017.1 L1321.9,1021.9 L1323.2,1017.4 L1324.4,1021.3 L1325.7,1017.4 L1326.9,1021.6 L1328.2,1017.1 L1329.5,1022.8 L1330.7,1016.8 L1332.0,1024.1 L1333.3,1017.7 L1334.5,1026.0 L1335.8,1018.2 L1337.0,1027.8 L1338.3,1018.6 L1339.6,1030.0 L1340.8,1018.9 L1342.1,1032.2 L1343.3,1018.8 L1344.6,1032.5 L1345.9,1018.2 L1347.1,1030.6 L1348.4,1018.7 L1349.6,1029.7 L1350.9,1019.3 L1352.2,1029.0 L1353.4,1019.9 L1354.7,1028.4 L1355.9,1020.6 L1357.2,1028.4 L1358.5,1021.1 L1359.7,1029.3 L1361.0,1021.4 L1362.3,1030.2 L1363.5,1021.7 L1364.8,1031.1 L1366.0,1021.7 L1367.3,1032.0 L1368.6,1021.4 L1369.8,1032.5 L1371.1,1022.4 L1372.3,1033.0 L1373.6,1023.5 L1374.9,1033.5 L1376.1,1024.2 L1377.4,1036.8 L1378.6,1024.8 L1379.9,1036.5 L1381.2,1025.3 L1382.4,1036.8 L1383.7,1025.7 L1384.9,1036.8 L1386.2,1026.1 L1387.5,1034.5 L1388.7,1027.0 L1390.0,1034.0 L1391.3,1027.9 L1392.5,1034.5 L1393.8,1028.7 L1395.0,1035.7 L1396.3,1029.5 L1397.6,1037.0 L1398.8,1030.2 L1400.1,1038.9 L1401.3,1030.1 L1402.6,1038.2 L1403.9,1027.0 L1405.1,1037.8 L1406.4,1029.3 L1407.6,1038.2 L1408.9,1033.2 L1410.2,1039.7 L1411.4,1034.5 L1412.7,1041.6 L1413.9,1034.7 L1415.2,1042.8 L1416.5,1034.4 L1417.7,1043.4 L1419.0,1034.1 L1420.2,1044.0 L1421.5,1035.7 L1422.8,1044.8 L1424.0,1036.3 L1425.3,1042.1 L1426.6,1036.6 L1427.8,1040.8 L1429.1,1036.9 L1430.3,1039.6 L1431.6,1036.9 L1432.9,1039.1 L1434.1,1036.9 L1435.4,1039.1 L1436.6,1036.7 L1437.9,1039.1 L1439.2,1035.5 L1440.4,1039.7 L1441.7,1033.0 L1442.9,1041.2 L1444.2,1037.8 L1445.5,1043.3 L1446.7,1038.9 L1448.0,1044.8 L1449.2,1038.8 L1450.5,1043.5 L1451.8,1037.8 L1453.0,1042.7 L1454.3,1036.9 L1455.6,1042.1 L1456.8,1037.8 L1458.1,1041.5 L1459.3,1038.9 L1460.6,1041.4 L1461.9,1040.1 L1463.1,1041.7 L1464.4,1040.5 L1465.6,1042.0 L1466.9,1040.5 L1468.2,1042.8 L1469.4,1040.5 L1470.7,1044.9 L1471.9,1040.4 L1473.2,1047.5 L1474.5,1040.0 L1475.7,1049.8 L1477.0,1039.5 L1478.2,1049.5 L1479.5,1038.1 L1480.8,1049.2 L1482.0,1039.6 L1483.3,1048.3 L1484.6,1043.0 L1485.8,1047.4 L1487.1,1044.3 L1488.3,1047.0 L1489.6,1044.7 L1490.9,1047.3 L1492.1,1044.3 L1493.4,1047.6 L1494.6,1044.0 L1495.9,1048.2 L1497.2,1043.6 L1498.4,1049.9 L1499.7,1043.3 L1500.9,1052.3 L1502.2,1043.9 L1503.5,1052.8 L1504.7,1043.9 L1506.0,1053.8 L1507.2,1042.6 L1508.5,1055.1 L1509.8,1043.0 L1511.0,1055.9 L1512.3,1043.4 L1513.6,1055.7 L1514.8,1043.9 L1516.1,1055.5 L1517.3,1043.8 L1518.6,1055.2 L1519.9,1042.7 L1521.1,1054.8 L1522.4,1038.1 L1523.6,1055.0 L1524.9,1042.7 L1526.2,1056.2 L1527.4,1045.7 L1528.7,1055.4 L1529.9,1046.7 L1531.2,1054.5 L1532.5,1046.7 L1533.7,1053.8 L1535.0,1046.2 L1536.2,1053.2 L1537.5,1046.7 L1538.8,1052.7 L1540.0,1048.1 L1541.3,1053.1 L1542.6,1050.5 L1543.8,1055.5 L1545.1,1051.5 L1546.3,1054.4 L1547.6,1051.5 L1548.9,1052.5 L1550.1,1050.4 L1551.4,1050.0 L1552.6,1048.3 L1553.9,1048.2 L1555.2,1046.1 L1556.4,1047.3 L1557.7,1041.9 L1558.9,1046.5 L1560.2,1042.8 L1561.5,1046.4 L1562.7,1044.3 L1564.0,1047.4 L1565.2,1046.5 L1566.5,1049.8 L1567.8,1048.3 L1569.0,1051.7 L1570.3,1049.0 L1571.6,1052.7 L1572.8,1049.0 L1574.1,1053.6 L1575.3,1049.0 L1576.6,1054.6 L1577.9,1048.7 L1579.1,1056.2 L1580.4,1047.6 L1581.6,1055.4 L1582.9,1046.2 L1584.2,1054.3 L1585.4,1047.3 L1586.7,1053.1 L1587.9,1048.5 L1589.2,1052.8 L1590.5,1049.2 L1591.7,1053.3 L1593.0,1049.9 L1594.2,1054.1 L1595.5,1050.3 L1596.8,1054.9 L1598.0,1050.0 L1599.3,1055.7 L1600.5,1048.3 L1601.8,1056.2 L1603.1,1044.0 L1604.3,1054.8 L1605.6,1046.4 L1606.9,1054.2 L1608.1,1049.8 L1609.4,1054.5 L1610.6,1050.9 L1611.9,1055.4 L1613.2,1051.0 L1614.4,1056.3 L1615.7,1050.8 L1616.9,1056.9 L1618.2,1050.4 L1619.5,1056.2 L1620.7,1050.7 L1622.0,1055.3 L1623.2,1051.3 L1624.5,1054.8 L1625.8,1052.5 L1627.0,1055.2 L1628.3,1053.7 L1629.5,1055.9 L1630.8,1053.9 L1632.1,1056.5 L1633.3,1053.5 L1634.6,1057.6 L1635.9,1053.1 L1637.1,1057.6 L1638.4,1052.8 L1639.6,1057.6 L1640.9,1052.5 L1642.2,1056.8 L1643.4,1051.4 L1644.7,1056.5 L1645.9,1050.7 L1647.2,1056.4 L1648.5,1050.3 L1649.7,1057.0 L1651.0,1049.7 L1652.2,1058.0 L1653.5,1049.0 L1654.8,1058.6 L1656.0,1048.0 L1657.3,1058.9 L1658.5,1049.6 L1659.8,1058.7 L1661.1,1053.0 L1662.3,1058.5 L1663.6,1054.5 L1664.9,1057.6 L1666.1,1054.9 L1667.4,1056.7 L1668.6,1055.2 L1669.9,1056.3 L1671.2,1055.4 L1672.4,1056.3 L1673.7,1055.6 L1674.9,1056.3 L1676.2,1055.6 L1677.5,1056.6 L1678.7,1055.7 L1680.0,1057.1 L1681.2,1055.8 L1682.5,1057.7 L1683.8,1055.9 L1685.0,1058.4 L1686.3,1056.1 L1687.5,1059.3 L1688.8,1056.2 L1690.1,1060.2 L1691.3,1055.8 L1692.6,1061.7 L1693.9,1054.3 L1695.1,1060.5 L1696.4,1051.2 L1697.6,1059.3 L1698.9,1052.2 L1700.2,1058.0 L1701.4,1053.2 L1702.7,1057.1 L1703.9,1053.5 L1705.2,1057.2 L1706.5,1053.6 L1707.7,1057.5 L1709.0,1053.8 L1710.2,1057.8 L1711.5,1053.6 L1712.8,1058.5 L1714.0,1053.4 L1715.3,1059.3 L1716.5,1055.5 L1717.8,1059.6 L1719.1,1056.7 L1720.3,1059.8 L1721.6,1056.9 L1722.9,1059.8 L1724.1,1056.9 L1725.4,1059.8 L1726.6,1056.9 L1727.9,1058.3 L1729.2,1056.1 L1730.4,1057.2 L1731.7,1054.0 L1732.9,1056.9 L1734.2,1051.2 L1735.5,1056.7 L1736.7,1052.3 L1738.0,1056.6 L1739.2,1053.3 L1740.5,1056.7 L1741.8,1054.3 L1743.0,1056.8 L1744.3,1055.2" stroke="#0000ff"/>
</g>
<g stroke-width="13" stroke-linecap="round" fill="none">
<line x1="1179" y1="150.3" x2="1407.5" y2="150.3" stroke="#000000"/>
<line x1="1179" y1="260.3" x2="1407.5" y2="260.3" stroke="#ff0000"/>
<line x1="1179" y1="370.3" x2="1407.5" y2="370.3" stroke="#00ff00"/>
<line x1="1179" y1="480.3" x2="1407.5" y2="480.3" stroke="#0000ff"/>
</g>
<g font-size="91px">
<text transform="translate(1458.3,182.5) scale(1,1.03)" xml:space="preserve">0.5<tspan x="125.4"> h</tspan></text>
<text transform="translate(1458.3,292.5) scale(1,1.03)" xml:space="preserve">1<tspan x="125.4"> h</tspan></text>
<text transform="translate(1458.3,402.5) scale(1,1.03)" xml:space="preserve">2<tspan x="125.4"> h</tspan></text>
<text transform="translate(1458.3,512.5) scale(1,1.03)" xml:space="preserve">4<tspan x="125.4"> h</tspan></text>
</g>
<g font-size="91.3px" text-anchor="middle">
<text transform="translate(226.5,1232) scale(1,1.034)">450</text>
<text transform="translate(478.7,1232) scale(1,1.034)">500</text>
<text transform="translate(730.8,1232) scale(1,1.034)">550</text>
<text transform="translate(983.0,1232) scale(1,1.034)">600</text>
<text transform="translate(1235.2,1232) scale(1,1.034)">650</text>
<text transform="translate(1487.3,1232) scale(1,1.034)">700</text>
<text transform="translate(1739.5,1232) scale(1,1.034)">750</text>
</g>
<text transform="translate(544.5,1354.3) scale(1,1.0)" font-size="120.6px" xml:space="preserve">Wavelength ( nm )</text>
<text transform="translate(120.3,1005) rotate(-90) scale(1,1.0)" font-size="120px" xml:space="preserve">Intensity ( a. u. )</text>
</svg></body></html>
